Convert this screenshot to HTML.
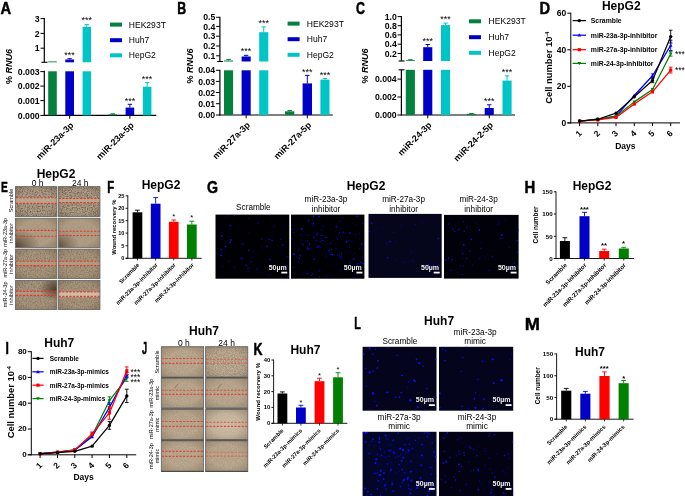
<!DOCTYPE html>
<html lang="en"><head><meta charset="utf-8"><title>Figure</title>
<style>
html,body{margin:0;padding:0;background:#fff;}
body{width:685px;height:496px;overflow:hidden;font-family:'Liberation Sans', sans-serif;}
svg{display:block;font-family:"Liberation Sans",sans-serif;}
</style></head><body>
<svg width="685" height="496" viewBox="0 0 685 496">
<defs>
<filter id="nzD" x="0" y="0" width="100%" height="100%" color-interpolation-filters="sRGB">
<feTurbulence type="fractalNoise" baseFrequency="0.8" numOctaves="2" seed="4"/>
<feColorMatrix type="matrix" values="1 0 0 0 0  1 0 0 0 0  1 0 0 0 0  0 0 0 0 1"/>
<feGaussianBlur stdDeviation="0.3"/>
<feComponentTransfer>
<feFuncR type="table" tableValues="0.410 0.430 0.460 0.505 0.565 0.625 0.665 0.690 0.705 0.715 0.725"/>
<feFuncG type="table" tableValues="0.342 0.362 0.392 0.437 0.497 0.557 0.597 0.622 0.637 0.647 0.657"/>
<feFuncB type="table" tableValues="0.260 0.280 0.310 0.355 0.415 0.475 0.515 0.540 0.555 0.565 0.575"/>
</feComponentTransfer>
</filter>
<filter id="nzM" x="0" y="0" width="100%" height="100%" color-interpolation-filters="sRGB">
<feTurbulence type="fractalNoise" baseFrequency="0.77" numOctaves="2" seed="9"/>
<feColorMatrix type="matrix" values="1 0 0 0 0  1 0 0 0 0  1 0 0 0 0  0 0 0 0 1"/>
<feGaussianBlur stdDeviation="0.3"/>
<feComponentTransfer>
<feFuncR type="table" tableValues="0.490 0.510 0.535 0.565 0.595 0.625 0.650 0.665 0.675 0.680 0.685"/>
<feFuncG type="table" tableValues="0.420 0.440 0.465 0.495 0.525 0.555 0.580 0.595 0.605 0.610 0.615"/>
<feFuncB type="table" tableValues="0.330 0.350 0.375 0.405 0.435 0.465 0.490 0.505 0.515 0.520 0.525"/>
</feComponentTransfer>
</filter>
<filter id="nzS" x="0" y="0" width="100%" height="100%" color-interpolation-filters="sRGB">
<feTurbulence type="fractalNoise" baseFrequency="1.2" numOctaves="1" seed="7"/>
<feColorMatrix type="matrix" values="0.12 0 0 0 0.615  0.11 0 0 0 0.55  0.1 0 0 0 0.46  0 0 0 0 1"/>
</filter>
<filter id="nzJ" x="0" y="0" width="100%" height="100%" color-interpolation-filters="sRGB">
<feTurbulence type="fractalNoise" baseFrequency="1.2" numOctaves="1" seed="5"/>
<feColorMatrix type="matrix" values="0.14 0 0 0 0.64  0.13 0 0 0 0.575  0.12 0 0 0 0.485  0 0 0 0 1"/>
</filter>
<filter id="nzJ2" x="0" y="0" width="100%" height="100%" color-interpolation-filters="sRGB">
<feTurbulence type="fractalNoise" baseFrequency="1.1" numOctaves="2" seed="15"/>
<feColorMatrix type="matrix" values="0.3 0 0 0 0.55  0.28 0 0 0 0.49  0.26 0 0 0 0.41  0 0 0 0 1"/>
</filter>
<radialGradient id="vigJ" cx="0.5" cy="0.5" r="0.8">
<stop offset="0.45" stop-color="#3a2a18" stop-opacity="0"/>
<stop offset="1" stop-color="#3a2a18" stop-opacity="0.3"/>
</radialGradient>
<radialGradient id="lightC" cx="0.5" cy="0.5" r="0.7">
<stop offset="0" stop-color="#e8dcc8" stop-opacity="0.45"/>
<stop offset="1" stop-color="#e8dcc8" stop-opacity="0.1"/>
</radialGradient>
<radialGradient id="blobTR" cx="0.96" cy="0.3" r="0.4">
<stop offset="0" stop-color="#3a2c1e" stop-opacity="0.8"/>
<stop offset="1" stop-color="#3a2c1e" stop-opacity="0"/>
</radialGradient>
<radialGradient id="blobBL" cx="0.0" cy="0.95" r="0.6">
<stop offset="0" stop-color="#3a2c1e" stop-opacity="0.7"/>
<stop offset="1" stop-color="#3a2c1e" stop-opacity="0"/>
</radialGradient>
<radialGradient id="blobBLs" cx="0.0" cy="0.9" r="0.5">
<stop offset="0" stop-color="#3a2c1e" stop-opacity="0.55"/>
<stop offset="1" stop-color="#3a2c1e" stop-opacity="0"/>
</radialGradient>
<filter id="soft" x="-5%" y="-5%" width="110%" height="110%"><feGaussianBlur stdDeviation="0.35"/></filter>
<radialGradient id="vig" cx="0.5" cy="0.5" r="0.75">
<stop offset="0.55" stop-color="#3a2a18" stop-opacity="0"/>
<stop offset="1" stop-color="#3a2a18" stop-opacity="0.3"/>
</radialGradient>
</defs>
<rect x="0" y="0" width="685" height="496" fill="#fff"/>
<text transform="translate(0.41,14.12) scale(0.944,1)" font-size="15.58" font-weight="bold" stroke="#000" stroke-width="0.45" vector-effect="non-scaling-stroke" stroke-linejoin="round">A</text>
<line x1="44.30" y1="18.10" x2="44.30" y2="62.30" stroke="#000" stroke-width="1.2"/>
<line x1="44.30" y1="70.80" x2="44.30" y2="115.90" stroke="#000" stroke-width="1.2"/>
<line x1="43.80" y1="115.40" x2="156.30" y2="115.40" stroke="#000" stroke-width="1.2"/>
<line x1="41.50" y1="62.30" x2="47.50" y2="62.30" stroke="#000" stroke-width="1.1"/>
<line x1="40.50" y1="18.60" x2="44.30" y2="18.60" stroke="#000" stroke-width="1"/>
<text x="39.70" y="21.70" font-size="8.7" font-weight="bold" text-anchor="end" fill="#000">3</text>
<line x1="40.50" y1="33.40" x2="44.30" y2="33.40" stroke="#000" stroke-width="1"/>
<text x="39.70" y="36.50" font-size="8.7" font-weight="bold" text-anchor="end" fill="#000">2</text>
<line x1="40.50" y1="48.20" x2="44.30" y2="48.20" stroke="#000" stroke-width="1"/>
<text x="39.70" y="51.30" font-size="8.7" font-weight="bold" text-anchor="end" fill="#000">1</text>
<line x1="40.30" y1="71.60" x2="44.30" y2="71.60" stroke="#000" stroke-width="1"/>
<text x="39.60" y="74.70" font-size="8.7" font-weight="bold" text-anchor="end" fill="#000">0.003</text>
<line x1="40.30" y1="86.10" x2="44.30" y2="86.10" stroke="#000" stroke-width="1"/>
<text x="39.60" y="89.20" font-size="8.7" font-weight="bold" text-anchor="end" fill="#000">0.002</text>
<line x1="40.30" y1="100.60" x2="44.30" y2="100.60" stroke="#000" stroke-width="1"/>
<text x="39.60" y="103.70" font-size="8.7" font-weight="bold" text-anchor="end" fill="#000">0.001</text>
<line x1="40.30" y1="115.40" x2="44.30" y2="115.40" stroke="#000" stroke-width="1"/>
<text x="39.60" y="118.50" font-size="8.7" font-weight="bold" text-anchor="end" fill="#000">0.000</text>
<rect x="48.20" y="71.30" width="8.60" height="44.10" fill="#04803f"/>
<rect x="48.20" y="61.40" width="8.60" height="0.90" fill="#04803f"/>
<rect x="65.30" y="71.30" width="8.70" height="44.10" fill="#0000c6"/>
<rect x="65.30" y="59.50" width="8.70" height="2.80" fill="#0000c6"/>
<line x1="69.65" y1="58.70" x2="69.65" y2="59.50" stroke="#0000c6" stroke-width="1"/>
<line x1="67.45" y1="58.70" x2="71.85" y2="58.70" stroke="#0000c6" stroke-width="1"/>
<rect x="82.60" y="71.30" width="8.40" height="44.10" fill="#00c5c6"/>
<rect x="82.60" y="26.90" width="8.40" height="35.40" fill="#00c5c6"/>
<line x1="86.80" y1="24.60" x2="86.80" y2="26.90" stroke="#00c5c6" stroke-width="1"/>
<line x1="84.60" y1="24.60" x2="89.00" y2="24.60" stroke="#00c5c6" stroke-width="1"/>
<rect x="108.50" y="114.30" width="8.50" height="1.10" fill="#04803f"/>
<line x1="112.75" y1="113.80" x2="112.75" y2="114.30" stroke="#04803f" stroke-width="1"/>
<line x1="110.55" y1="113.80" x2="114.95" y2="113.80" stroke="#04803f" stroke-width="1"/>
<rect x="125.60" y="107.60" width="8.60" height="7.80" fill="#0000c6"/>
<line x1="129.90" y1="104.30" x2="129.90" y2="107.60" stroke="#0000c6" stroke-width="1"/>
<line x1="127.70" y1="104.30" x2="132.10" y2="104.30" stroke="#0000c6" stroke-width="1"/>
<rect x="142.90" y="86.70" width="8.50" height="28.70" fill="#00c5c6"/>
<line x1="147.15" y1="82.60" x2="147.15" y2="86.70" stroke="#00c5c6" stroke-width="1"/>
<line x1="144.95" y1="82.60" x2="149.35" y2="82.60" stroke="#00c5c6" stroke-width="1"/>
<text x="69.60" y="57.50" font-size="9" font-weight="normal" text-anchor="middle" fill="#000">***</text>
<text x="86.80" y="23.30" font-size="9" font-weight="normal" text-anchor="middle" fill="#000">***</text>
<text x="129.90" y="103.50" font-size="9" font-weight="normal" text-anchor="middle" fill="#000">***</text>
<text x="147.10" y="82.20" font-size="9" font-weight="normal" text-anchor="middle" fill="#000">***</text>
<line x1="69.65" y1="115.40" x2="69.65" y2="118.70" stroke="#000" stroke-width="1"/>
<text x="0" y="0" transform="translate(74.15,125.90) rotate(-45)" font-size="9" font-weight="bold" text-anchor="end" fill="#000">miR-23a-3p</text>
<line x1="129.90" y1="115.40" x2="129.90" y2="118.70" stroke="#000" stroke-width="1"/>
<text x="0" y="0" transform="translate(134.40,125.90) rotate(-45)" font-size="9" font-weight="bold" text-anchor="end" fill="#000">miR-23a-5p</text>
<rect x="110.00" y="22.60" width="12.00" height="4.00" fill="#04803f"/>
<text x="128.80" y="27.70" font-size="8.55" font-weight="normal" text-anchor="start" fill="#000">HEK293T</text>
<rect x="110.00" y="38.20" width="12.00" height="4.00" fill="#0000c6"/>
<text x="128.80" y="43.30" font-size="8.55" font-weight="normal" text-anchor="start" fill="#000">Huh7</text>
<rect x="110.00" y="53.30" width="12.00" height="4.00" fill="#00c5c6"/>
<text x="128.80" y="58.40" font-size="8.55" font-weight="normal" text-anchor="start" fill="#000">HepG2</text>
<text x="0" y="0" transform="translate(12.00,66.50) rotate(-90)" font-size="9" font-weight="bold" text-anchor="middle" fill="#000">% <tspan font-style="italic">RNU6</tspan></text>
<text transform="translate(177.27,14.12) scale(0.794,1)" font-size="15.58" font-weight="bold" stroke="#000" stroke-width="0.45" vector-effect="non-scaling-stroke" stroke-linejoin="round">B</text>
<line x1="219.90" y1="16.80" x2="219.90" y2="61.50" stroke="#000" stroke-width="1.2"/>
<line x1="219.90" y1="69.80" x2="219.90" y2="115.50" stroke="#000" stroke-width="1.2"/>
<line x1="219.40" y1="115.00" x2="332.80" y2="115.00" stroke="#000" stroke-width="1.2"/>
<line x1="217.10" y1="61.50" x2="223.10" y2="61.50" stroke="#000" stroke-width="1.1"/>
<line x1="216.10" y1="17.30" x2="219.90" y2="17.30" stroke="#000" stroke-width="1"/>
<text x="215.30" y="20.40" font-size="8.7" font-weight="bold" text-anchor="end" fill="#000">0.5</text>
<line x1="216.10" y1="26.40" x2="219.90" y2="26.40" stroke="#000" stroke-width="1"/>
<text x="215.30" y="29.50" font-size="8.7" font-weight="bold" text-anchor="end" fill="#000">0.4</text>
<line x1="216.10" y1="36.20" x2="219.90" y2="36.20" stroke="#000" stroke-width="1"/>
<text x="215.30" y="39.30" font-size="8.7" font-weight="bold" text-anchor="end" fill="#000">0.3</text>
<line x1="216.10" y1="46.00" x2="219.90" y2="46.00" stroke="#000" stroke-width="1"/>
<text x="215.30" y="49.10" font-size="8.7" font-weight="bold" text-anchor="end" fill="#000">0.2</text>
<line x1="216.10" y1="55.80" x2="219.90" y2="55.80" stroke="#000" stroke-width="1"/>
<text x="215.30" y="58.90" font-size="8.7" font-weight="bold" text-anchor="end" fill="#000">0.1</text>
<line x1="215.90" y1="70.30" x2="219.90" y2="70.30" stroke="#000" stroke-width="1"/>
<text x="215.20" y="73.40" font-size="8.7" font-weight="bold" text-anchor="end" fill="#000">0.04</text>
<line x1="215.90" y1="81.40" x2="219.90" y2="81.40" stroke="#000" stroke-width="1"/>
<text x="215.20" y="84.50" font-size="8.7" font-weight="bold" text-anchor="end" fill="#000">0.03</text>
<line x1="215.90" y1="92.50" x2="219.90" y2="92.50" stroke="#000" stroke-width="1"/>
<text x="215.20" y="95.60" font-size="8.7" font-weight="bold" text-anchor="end" fill="#000">0.02</text>
<line x1="215.90" y1="103.70" x2="219.90" y2="103.70" stroke="#000" stroke-width="1"/>
<text x="215.20" y="106.80" font-size="8.7" font-weight="bold" text-anchor="end" fill="#000">0.01</text>
<line x1="215.90" y1="115.00" x2="219.90" y2="115.00" stroke="#000" stroke-width="1"/>
<text x="215.20" y="118.10" font-size="8.7" font-weight="bold" text-anchor="end" fill="#000">0.00</text>
<rect x="224.00" y="70.30" width="9.10" height="44.70" fill="#04803f"/>
<rect x="224.00" y="60.50" width="9.10" height="1.00" fill="#04803f"/>
<line x1="228.55" y1="59.40" x2="228.55" y2="60.50" stroke="#04803f" stroke-width="1"/>
<line x1="226.35" y1="59.40" x2="230.75" y2="59.40" stroke="#04803f" stroke-width="1"/>
<rect x="241.60" y="70.30" width="9.10" height="44.70" fill="#0000c6"/>
<rect x="241.60" y="56.50" width="9.10" height="5.00" fill="#0000c6"/>
<line x1="246.15" y1="55.30" x2="246.15" y2="56.50" stroke="#0000c6" stroke-width="1"/>
<line x1="243.95" y1="55.30" x2="248.35" y2="55.30" stroke="#0000c6" stroke-width="1"/>
<rect x="259.20" y="70.30" width="9.10" height="44.70" fill="#00c5c6"/>
<rect x="259.20" y="32.20" width="9.10" height="29.30" fill="#00c5c6"/>
<line x1="263.75" y1="26.90" x2="263.75" y2="32.20" stroke="#00c5c6" stroke-width="1"/>
<line x1="261.55" y1="26.90" x2="265.95" y2="26.90" stroke="#00c5c6" stroke-width="1"/>
<rect x="285.00" y="111.30" width="9.30" height="3.70" fill="#04803f"/>
<line x1="289.65" y1="110.50" x2="289.65" y2="111.30" stroke="#04803f" stroke-width="1"/>
<line x1="287.45" y1="110.50" x2="291.85" y2="110.50" stroke="#04803f" stroke-width="1"/>
<rect x="302.60" y="83.40" width="9.40" height="31.60" fill="#0000c6"/>
<line x1="307.30" y1="75.40" x2="307.30" y2="83.40" stroke="#0000c6" stroke-width="1"/>
<line x1="305.10" y1="75.40" x2="309.50" y2="75.40" stroke="#0000c6" stroke-width="1"/>
<rect x="320.40" y="79.60" width="9.10" height="35.40" fill="#00c5c6"/>
<line x1="324.95" y1="78.60" x2="324.95" y2="79.60" stroke="#00c5c6" stroke-width="1"/>
<line x1="322.75" y1="78.60" x2="327.15" y2="78.60" stroke="#00c5c6" stroke-width="1"/>
<text x="246.10" y="53.50" font-size="9" font-weight="normal" text-anchor="middle" fill="#000">***</text>
<text x="263.70" y="25.50" font-size="9" font-weight="normal" text-anchor="middle" fill="#000">***</text>
<text x="307.30" y="74.50" font-size="9" font-weight="normal" text-anchor="middle" fill="#000">***</text>
<text x="325.00" y="78.00" font-size="9" font-weight="normal" text-anchor="middle" fill="#000">***</text>
<line x1="246.15" y1="115.00" x2="246.15" y2="118.30" stroke="#000" stroke-width="1"/>
<text x="0" y="0" transform="translate(250.65,125.50) rotate(-45)" font-size="9" font-weight="bold" text-anchor="end" fill="#000">miR-27a-3p</text>
<line x1="307.30" y1="115.00" x2="307.30" y2="118.30" stroke="#000" stroke-width="1"/>
<text x="0" y="0" transform="translate(311.80,125.50) rotate(-45)" font-size="9" font-weight="bold" text-anchor="end" fill="#000">miR-27a-5p</text>
<rect x="287.60" y="21.60" width="12.00" height="4.00" fill="#04803f"/>
<text x="306.80" y="26.70" font-size="8.55" font-weight="normal" text-anchor="start" fill="#000">HEK293T</text>
<rect x="287.60" y="37.20" width="12.00" height="4.00" fill="#0000c6"/>
<text x="306.80" y="42.30" font-size="8.55" font-weight="normal" text-anchor="start" fill="#000">Huh7</text>
<rect x="287.60" y="52.80" width="12.00" height="4.00" fill="#00c5c6"/>
<text x="306.80" y="57.90" font-size="8.55" font-weight="normal" text-anchor="start" fill="#000">HepG2</text>
<text x="0" y="0" transform="translate(192.50,66.00) rotate(-90)" font-size="9" font-weight="bold" text-anchor="middle" fill="#000">% <tspan font-style="italic">RNU6</tspan></text>
<text transform="translate(356.08,14.27) scale(0.778,1)" font-size="15.99" font-weight="bold" stroke="#000" stroke-width="0.45" vector-effect="non-scaling-stroke" stroke-linejoin="round">C</text>
<line x1="401.40" y1="16.10" x2="401.40" y2="61.00" stroke="#000" stroke-width="1.2"/>
<line x1="401.40" y1="69.80" x2="401.40" y2="115.50" stroke="#000" stroke-width="1.2"/>
<line x1="400.90" y1="115.00" x2="515.00" y2="115.00" stroke="#000" stroke-width="1.2"/>
<line x1="398.60" y1="61.00" x2="404.60" y2="61.00" stroke="#000" stroke-width="1.1"/>
<line x1="398.60" y1="69.80" x2="404.60" y2="69.80" stroke="#000" stroke-width="1.1"/>
<line x1="397.60" y1="16.60" x2="401.40" y2="16.60" stroke="#000" stroke-width="1"/>
<text x="396.80" y="19.70" font-size="8.7" font-weight="bold" text-anchor="end" fill="#000">1.0</text>
<line x1="397.60" y1="25.70" x2="401.40" y2="25.70" stroke="#000" stroke-width="1"/>
<text x="396.80" y="28.80" font-size="8.7" font-weight="bold" text-anchor="end" fill="#000">0.8</text>
<line x1="397.60" y1="34.90" x2="401.40" y2="34.90" stroke="#000" stroke-width="1"/>
<text x="396.80" y="38.00" font-size="8.7" font-weight="bold" text-anchor="end" fill="#000">0.6</text>
<line x1="397.60" y1="44.20" x2="401.40" y2="44.20" stroke="#000" stroke-width="1"/>
<text x="396.80" y="47.30" font-size="8.7" font-weight="bold" text-anchor="end" fill="#000">0.4</text>
<line x1="397.60" y1="53.50" x2="401.40" y2="53.50" stroke="#000" stroke-width="1"/>
<text x="396.80" y="56.60" font-size="8.7" font-weight="bold" text-anchor="end" fill="#000">0.2</text>
<line x1="397.40" y1="79.10" x2="401.40" y2="79.10" stroke="#000" stroke-width="1"/>
<text x="396.70" y="82.20" font-size="8.7" font-weight="bold" text-anchor="end" fill="#000">0.004</text>
<line x1="397.40" y1="97.00" x2="401.40" y2="97.00" stroke="#000" stroke-width="1"/>
<text x="396.70" y="100.10" font-size="8.7" font-weight="bold" text-anchor="end" fill="#000">0.002</text>
<line x1="397.40" y1="115.00" x2="401.40" y2="115.00" stroke="#000" stroke-width="1"/>
<text x="396.70" y="118.10" font-size="8.7" font-weight="bold" text-anchor="end" fill="#000">0.000</text>
<rect x="405.80" y="69.80" width="9.10" height="45.20" fill="#04803f"/>
<rect x="405.80" y="60.20" width="9.10" height="0.80" fill="#04803f"/>
<line x1="410.35" y1="59.70" x2="410.35" y2="60.20" stroke="#04803f" stroke-width="1"/>
<line x1="408.15" y1="59.70" x2="412.55" y2="59.70" stroke="#04803f" stroke-width="1"/>
<rect x="423.20" y="69.80" width="9.10" height="45.20" fill="#0000c6"/>
<rect x="423.20" y="47.20" width="9.10" height="13.80" fill="#0000c6"/>
<line x1="427.75" y1="44.50" x2="427.75" y2="47.20" stroke="#0000c6" stroke-width="1"/>
<line x1="425.55" y1="44.50" x2="429.95" y2="44.50" stroke="#0000c6" stroke-width="1"/>
<rect x="441.00" y="69.80" width="9.10" height="45.20" fill="#00c5c6"/>
<rect x="441.00" y="25.10" width="9.10" height="35.90" fill="#00c5c6"/>
<line x1="445.55" y1="23.10" x2="445.55" y2="25.10" stroke="#00c5c6" stroke-width="1"/>
<line x1="443.35" y1="23.10" x2="447.75" y2="23.10" stroke="#00c5c6" stroke-width="1"/>
<rect x="466.80" y="113.80" width="9.30" height="1.20" fill="#04803f"/>
<line x1="471.45" y1="113.50" x2="471.45" y2="113.80" stroke="#04803f" stroke-width="1"/>
<line x1="469.25" y1="113.50" x2="473.65" y2="113.50" stroke="#04803f" stroke-width="1"/>
<rect x="484.70" y="108.00" width="9.10" height="7.00" fill="#0000c6"/>
<line x1="489.25" y1="104.80" x2="489.25" y2="108.00" stroke="#0000c6" stroke-width="1"/>
<line x1="487.05" y1="104.80" x2="491.45" y2="104.80" stroke="#0000c6" stroke-width="1"/>
<rect x="502.50" y="80.60" width="9.10" height="34.40" fill="#00c5c6"/>
<line x1="507.05" y1="75.90" x2="507.05" y2="80.60" stroke="#00c5c6" stroke-width="1"/>
<line x1="504.85" y1="75.90" x2="509.25" y2="75.90" stroke="#00c5c6" stroke-width="1"/>
<text x="427.70" y="43.70" font-size="9" font-weight="normal" text-anchor="middle" fill="#000">***</text>
<text x="445.50" y="22.30" font-size="9" font-weight="normal" text-anchor="middle" fill="#000">***</text>
<text x="489.20" y="104.00" font-size="9" font-weight="normal" text-anchor="middle" fill="#000">***</text>
<text x="507.00" y="75.10" font-size="9" font-weight="normal" text-anchor="middle" fill="#000">***</text>
<line x1="427.75" y1="115.00" x2="427.75" y2="118.30" stroke="#000" stroke-width="1"/>
<text x="0" y="0" transform="translate(432.25,125.50) rotate(-45)" font-size="9" font-weight="bold" text-anchor="end" fill="#000">miR-24-3p</text>
<line x1="489.25" y1="115.00" x2="489.25" y2="118.30" stroke="#000" stroke-width="1"/>
<text x="0" y="0" transform="translate(493.75,125.50) rotate(-45)" font-size="9" font-weight="bold" text-anchor="end" fill="#000">miR-24-2-5p</text>
<rect x="469.00" y="19.30" width="12.00" height="4.00" fill="#04803f"/>
<text x="488.60" y="24.40" font-size="8.55" font-weight="normal" text-anchor="start" fill="#000">HEK293T</text>
<rect x="469.00" y="35.20" width="12.00" height="4.00" fill="#0000c6"/>
<text x="488.60" y="40.30" font-size="8.55" font-weight="normal" text-anchor="start" fill="#000">Huh7</text>
<rect x="469.00" y="50.80" width="12.00" height="4.00" fill="#00c5c6"/>
<text x="488.60" y="55.90" font-size="8.55" font-weight="normal" text-anchor="start" fill="#000">HepG2</text>
<text x="0" y="0" transform="translate(368.20,66.00) rotate(-90)" font-size="9" font-weight="bold" text-anchor="middle" fill="#000">% <tspan font-style="italic">RNU6</tspan></text>
<text transform="translate(539.42,13.53) scale(0.919,1)" font-size="16.01" font-weight="bold" stroke="#000" stroke-width="0.45" vector-effect="non-scaling-stroke" stroke-linejoin="round">D</text>
<text x="621.30" y="9.80" font-size="12" font-weight="bold" text-anchor="middle" fill="#000">HepG2</text>
<line x1="570.80" y1="12.70" x2="570.80" y2="123.40" stroke="#000" stroke-width="1"/>
<line x1="567.30" y1="122.90" x2="680.00" y2="122.90" stroke="#000" stroke-width="1"/>
<line x1="567.30" y1="13.20" x2="570.80" y2="13.20" stroke="#000" stroke-width="1"/>
<text x="566.30" y="16.26" font-size="8.5" font-weight="bold" text-anchor="end" fill="#000">60</text>
<line x1="567.30" y1="49.80" x2="570.80" y2="49.80" stroke="#000" stroke-width="1"/>
<text x="566.30" y="52.86" font-size="8.5" font-weight="bold" text-anchor="end" fill="#000">40</text>
<line x1="567.30" y1="86.30" x2="570.80" y2="86.30" stroke="#000" stroke-width="1"/>
<text x="566.30" y="89.36" font-size="8.5" font-weight="bold" text-anchor="end" fill="#000">20</text>
<line x1="567.30" y1="122.90" x2="570.80" y2="122.90" stroke="#000" stroke-width="1"/>
<text x="566.30" y="125.96" font-size="8.5" font-weight="bold" text-anchor="end" fill="#000">0</text>
<line x1="579.60" y1="122.90" x2="579.60" y2="126.10" stroke="#000" stroke-width="1"/>
<text x="0" y="0" transform="translate(580.60,135.60) rotate(-45)" font-size="8.5" font-weight="bold" text-anchor="middle" fill="#000">1</text>
<line x1="597.80" y1="122.90" x2="597.80" y2="126.10" stroke="#000" stroke-width="1"/>
<text x="0" y="0" transform="translate(598.80,135.60) rotate(-45)" font-size="8.5" font-weight="bold" text-anchor="middle" fill="#000">2</text>
<line x1="616.00" y1="122.90" x2="616.00" y2="126.10" stroke="#000" stroke-width="1"/>
<text x="0" y="0" transform="translate(617.00,135.60) rotate(-45)" font-size="8.5" font-weight="bold" text-anchor="middle" fill="#000">3</text>
<line x1="634.30" y1="122.90" x2="634.30" y2="126.10" stroke="#000" stroke-width="1"/>
<text x="0" y="0" transform="translate(635.30,135.60) rotate(-45)" font-size="8.5" font-weight="bold" text-anchor="middle" fill="#000">4</text>
<line x1="652.50" y1="122.90" x2="652.50" y2="126.10" stroke="#000" stroke-width="1"/>
<text x="0" y="0" transform="translate(653.50,135.60) rotate(-45)" font-size="8.5" font-weight="bold" text-anchor="middle" fill="#000">5</text>
<line x1="670.70" y1="122.90" x2="670.70" y2="126.10" stroke="#000" stroke-width="1"/>
<text x="0" y="0" transform="translate(671.70,135.60) rotate(-45)" font-size="8.5" font-weight="bold" text-anchor="middle" fill="#000">6</text>
<polyline points="579.60,121.25 597.80,119.43 616.00,116.14 634.30,95.48 652.50,75.73 670.70,45.38" fill="none" stroke="#0000ff" stroke-width="1.25" stroke-linejoin="round"/>
<line x1="670.70" y1="40.26" x2="670.70" y2="50.50" stroke="#0000ff" stroke-width="0.9"/>
<line x1="668.90" y1="40.26" x2="672.50" y2="40.26" stroke="#0000ff" stroke-width="0.9"/>
<line x1="668.90" y1="50.50" x2="672.50" y2="50.50" stroke="#0000ff" stroke-width="0.9"/>
<line x1="652.50" y1="73.90" x2="652.50" y2="77.56" stroke="#0000ff" stroke-width="0.9"/>
<line x1="650.70" y1="73.90" x2="654.30" y2="73.90" stroke="#0000ff" stroke-width="0.9"/>
<line x1="650.70" y1="77.56" x2="654.30" y2="77.56" stroke="#0000ff" stroke-width="0.9"/>
<path d="M577.80,122.65 L581.40,122.65 L579.60,119.35Z" fill="#0000ff"/>
<path d="M596.00,120.83 L599.60,120.83 L597.80,117.53Z" fill="#0000ff"/>
<path d="M614.20,117.54 L617.80,117.54 L616.00,114.24Z" fill="#0000ff"/>
<path d="M632.50,96.88 L636.10,96.88 L634.30,93.58Z" fill="#0000ff"/>
<path d="M650.70,77.13 L654.30,77.13 L652.50,73.83Z" fill="#0000ff"/>
<path d="M668.90,46.78 L672.50,46.78 L670.70,43.48Z" fill="#0000ff"/>
<polyline points="579.60,121.25 597.80,119.24 616.00,116.32 634.30,101.87 652.50,89.44 670.70,53.79" fill="none" stroke="#008000" stroke-width="1.25" stroke-linejoin="round"/>
<line x1="670.70" y1="51.41" x2="670.70" y2="56.17" stroke="#008000" stroke-width="0.9"/>
<line x1="668.90" y1="51.41" x2="672.50" y2="51.41" stroke="#008000" stroke-width="0.9"/>
<line x1="668.90" y1="56.17" x2="672.50" y2="56.17" stroke="#008000" stroke-width="0.9"/>
<path d="M577.80,119.85 L581.40,119.85 L579.60,123.15Z" fill="#008000"/>
<path d="M596.00,117.84 L599.60,117.84 L597.80,121.14Z" fill="#008000"/>
<path d="M614.20,114.92 L617.80,114.92 L616.00,118.22Z" fill="#008000"/>
<path d="M632.50,100.47 L636.10,100.47 L634.30,103.77Z" fill="#008000"/>
<path d="M650.70,88.04 L654.30,88.04 L652.50,91.34Z" fill="#008000"/>
<path d="M668.90,52.39 L672.50,52.39 L670.70,55.69Z" fill="#008000"/>
<polyline points="579.60,121.25 597.80,119.97 616.00,117.42 634.30,104.07 652.50,91.82 670.70,70.06" fill="none" stroke="#ff0000" stroke-width="1.25" stroke-linejoin="round"/>
<line x1="670.70" y1="67.14" x2="670.70" y2="72.99" stroke="#ff0000" stroke-width="0.9"/>
<line x1="668.90" y1="67.14" x2="672.50" y2="67.14" stroke="#ff0000" stroke-width="0.9"/>
<line x1="668.90" y1="72.99" x2="672.50" y2="72.99" stroke="#ff0000" stroke-width="0.9"/>
<rect x="578.00" y="119.65" width="3.20" height="3.20" fill="#ff0000"/>
<rect x="596.20" y="118.37" width="3.20" height="3.20" fill="#ff0000"/>
<rect x="614.40" y="115.82" width="3.20" height="3.20" fill="#ff0000"/>
<rect x="632.70" y="102.47" width="3.20" height="3.20" fill="#ff0000"/>
<rect x="650.90" y="90.22" width="3.20" height="3.20" fill="#ff0000"/>
<rect x="669.10" y="68.46" width="3.20" height="3.20" fill="#ff0000"/>
<polyline points="579.60,121.07 597.80,119.24 616.00,113.21 634.30,96.75 652.50,80.48 670.70,36.60" fill="none" stroke="#000" stroke-width="1.25" stroke-linejoin="round"/>
<line x1="670.70" y1="30.20" x2="670.70" y2="43.00" stroke="#000" stroke-width="0.9"/>
<line x1="668.90" y1="30.20" x2="672.50" y2="30.20" stroke="#000" stroke-width="0.9"/>
<line x1="668.90" y1="43.00" x2="672.50" y2="43.00" stroke="#000" stroke-width="0.9"/>
<line x1="652.50" y1="78.29" x2="652.50" y2="82.68" stroke="#000" stroke-width="0.9"/>
<line x1="650.70" y1="78.29" x2="654.30" y2="78.29" stroke="#000" stroke-width="0.9"/>
<line x1="650.70" y1="82.68" x2="654.30" y2="82.68" stroke="#000" stroke-width="0.9"/>
<circle cx="579.60" cy="121.07" r="1.7" fill="#000"/>
<circle cx="597.80" cy="119.24" r="1.7" fill="#000"/>
<circle cx="616.00" cy="113.21" r="1.7" fill="#000"/>
<circle cx="634.30" cy="96.75" r="1.7" fill="#000"/>
<circle cx="652.50" cy="80.48" r="1.7" fill="#000"/>
<circle cx="670.70" cy="36.60" r="1.7" fill="#000"/>
<line x1="572.60" y1="20.60" x2="586.00" y2="20.60" stroke="#000" stroke-width="1.25"/>
<circle cx="579.30" cy="20.60" r="1.7" fill="#000"/>
<text x="590.80" y="23.00" font-size="6.85" font-weight="bold" text-anchor="start" fill="#000">Scramble</text>
<line x1="572.60" y1="35.20" x2="586.00" y2="35.20" stroke="#0000ff" stroke-width="1.25"/>
<path d="M577.50,36.60 L581.10,36.60 L579.30,33.30Z" fill="#0000ff"/>
<text x="590.80" y="37.60" font-size="6.85" font-weight="bold" text-anchor="start" fill="#000">miR-23a-3p-inhibitor</text>
<line x1="572.60" y1="49.70" x2="586.00" y2="49.70" stroke="#ff0000" stroke-width="1.25"/>
<rect x="577.70" y="48.10" width="3.20" height="3.20" fill="#ff0000"/>
<text x="590.80" y="52.10" font-size="6.85" font-weight="bold" text-anchor="start" fill="#000">miR-27a-3p-inhibitor</text>
<line x1="572.60" y1="63.40" x2="586.00" y2="63.40" stroke="#008000" stroke-width="1.25"/>
<path d="M577.50,62.00 L581.10,62.00 L579.30,65.30Z" fill="#008000"/>
<text x="590.80" y="65.80" font-size="6.85" font-weight="bold" text-anchor="start" fill="#000">miR-24-3p-inhibitor</text>
<text x="675.00" y="56.60" font-size="8.5" font-weight="normal" text-anchor="start" fill="#000">***</text>
<text x="675.00" y="73.10" font-size="8.5" font-weight="normal" text-anchor="start" fill="#000">***</text>
<text x="0" y="0" transform="translate(551.90,67.80) rotate(-90)" font-size="9.4" font-weight="bold" text-anchor="middle" fill="#000">Cell number 10<tspan font-size="5.5" dy="-3.2">-4</tspan></text>
<text x="625.30" y="148.90" font-size="8.5" font-weight="bold" text-anchor="middle" fill="#000">Days</text>
<text transform="translate(5.49,353.92) scale(0.775,1)" font-size="15.58" font-weight="bold" stroke="#000" stroke-width="0.45" vector-effect="non-scaling-stroke" stroke-linejoin="round">I</text>
<text x="59.30" y="346.60" font-size="12" font-weight="bold" text-anchor="middle" fill="#000">Huh7</text>
<line x1="31.30" y1="351.20" x2="31.30" y2="455.30" stroke="#000" stroke-width="1"/>
<line x1="27.80" y1="454.80" x2="136.20" y2="454.80" stroke="#000" stroke-width="1"/>
<line x1="27.80" y1="351.70" x2="31.30" y2="351.70" stroke="#000" stroke-width="1"/>
<text x="26.80" y="354.08" font-size="8.0" font-weight="bold" text-anchor="end" fill="#000">80</text>
<line x1="27.80" y1="377.40" x2="31.30" y2="377.40" stroke="#000" stroke-width="1"/>
<text x="26.80" y="379.78" font-size="8.0" font-weight="bold" text-anchor="end" fill="#000">60</text>
<line x1="27.80" y1="403.20" x2="31.30" y2="403.20" stroke="#000" stroke-width="1"/>
<text x="26.80" y="405.58" font-size="8.0" font-weight="bold" text-anchor="end" fill="#000">40</text>
<line x1="27.80" y1="429.00" x2="31.30" y2="429.00" stroke="#000" stroke-width="1"/>
<text x="26.80" y="431.38" font-size="8.0" font-weight="bold" text-anchor="end" fill="#000">20</text>
<line x1="27.80" y1="454.80" x2="31.30" y2="454.80" stroke="#000" stroke-width="1"/>
<text x="26.80" y="457.18" font-size="8.0" font-weight="bold" text-anchor="end" fill="#000">0</text>
<line x1="40.10" y1="454.80" x2="40.10" y2="458.00" stroke="#000" stroke-width="1"/>
<text x="0" y="0" transform="translate(41.10,467.50) rotate(-45)" font-size="8.5" font-weight="bold" text-anchor="middle" fill="#000">1</text>
<line x1="57.50" y1="454.80" x2="57.50" y2="458.00" stroke="#000" stroke-width="1"/>
<text x="0" y="0" transform="translate(58.50,467.50) rotate(-45)" font-size="8.5" font-weight="bold" text-anchor="middle" fill="#000">2</text>
<line x1="74.80" y1="454.80" x2="74.80" y2="458.00" stroke="#000" stroke-width="1"/>
<text x="0" y="0" transform="translate(75.80,467.50) rotate(-45)" font-size="8.5" font-weight="bold" text-anchor="middle" fill="#000">3</text>
<line x1="92.10" y1="454.80" x2="92.10" y2="458.00" stroke="#000" stroke-width="1"/>
<text x="0" y="0" transform="translate(93.10,467.50) rotate(-45)" font-size="8.5" font-weight="bold" text-anchor="middle" fill="#000">4</text>
<line x1="109.40" y1="454.80" x2="109.40" y2="458.00" stroke="#000" stroke-width="1"/>
<text x="0" y="0" transform="translate(110.40,467.50) rotate(-45)" font-size="8.5" font-weight="bold" text-anchor="middle" fill="#000">5</text>
<line x1="126.80" y1="454.80" x2="126.80" y2="458.00" stroke="#000" stroke-width="1"/>
<text x="0" y="0" transform="translate(127.80,467.50) rotate(-45)" font-size="8.5" font-weight="bold" text-anchor="middle" fill="#000">6</text>
<polyline points="40.10,453.64 57.50,452.09 74.80,449.77 92.10,435.47 109.40,400.67 126.80,378.12" fill="none" stroke="#008000" stroke-width="1.25" stroke-linejoin="round"/>
<line x1="126.80" y1="374.90" x2="126.80" y2="381.34" stroke="#008000" stroke-width="0.9"/>
<line x1="125.00" y1="374.90" x2="128.60" y2="374.90" stroke="#008000" stroke-width="0.9"/>
<line x1="125.00" y1="381.34" x2="128.60" y2="381.34" stroke="#008000" stroke-width="0.9"/>
<line x1="109.40" y1="396.81" x2="109.40" y2="404.54" stroke="#008000" stroke-width="0.9"/>
<line x1="107.60" y1="396.81" x2="111.20" y2="396.81" stroke="#008000" stroke-width="0.9"/>
<line x1="107.60" y1="404.54" x2="111.20" y2="404.54" stroke="#008000" stroke-width="0.9"/>
<path d="M38.30,452.24 L41.90,452.24 L40.10,455.54Z" fill="#008000"/>
<path d="M55.70,450.69 L59.30,450.69 L57.50,453.99Z" fill="#008000"/>
<path d="M73.00,448.37 L76.60,448.37 L74.80,451.67Z" fill="#008000"/>
<path d="M90.30,434.07 L93.90,434.07 L92.10,437.37Z" fill="#008000"/>
<path d="M107.60,399.27 L111.20,399.27 L109.40,402.57Z" fill="#008000"/>
<path d="M125.00,376.72 L128.60,376.72 L126.80,380.02Z" fill="#008000"/>
<polyline points="40.10,453.64 57.50,452.22 74.80,450.29 92.10,436.76 109.40,407.37 126.80,375.16" fill="none" stroke="#0000ff" stroke-width="1.25" stroke-linejoin="round"/>
<line x1="126.80" y1="372.58" x2="126.80" y2="377.73" stroke="#0000ff" stroke-width="0.9"/>
<line x1="125.00" y1="372.58" x2="128.60" y2="372.58" stroke="#0000ff" stroke-width="0.9"/>
<line x1="125.00" y1="377.73" x2="128.60" y2="377.73" stroke="#0000ff" stroke-width="0.9"/>
<line x1="109.40" y1="402.86" x2="109.40" y2="411.88" stroke="#0000ff" stroke-width="0.9"/>
<line x1="107.60" y1="402.86" x2="111.20" y2="402.86" stroke="#0000ff" stroke-width="0.9"/>
<line x1="107.60" y1="411.88" x2="111.20" y2="411.88" stroke="#0000ff" stroke-width="0.9"/>
<path d="M38.30,455.04 L41.90,455.04 L40.10,451.74Z" fill="#0000ff"/>
<path d="M55.70,453.62 L59.30,453.62 L57.50,450.32Z" fill="#0000ff"/>
<path d="M73.00,451.69 L76.60,451.69 L74.80,448.39Z" fill="#0000ff"/>
<path d="M90.30,438.16 L93.90,438.16 L92.10,434.86Z" fill="#0000ff"/>
<path d="M107.60,408.77 L111.20,408.77 L109.40,405.47Z" fill="#0000ff"/>
<path d="M125.00,376.56 L128.60,376.56 L126.80,373.26Z" fill="#0000ff"/>
<polyline points="40.10,453.64 57.50,452.22 74.80,449.90 92.10,433.92 109.40,412.92 126.80,370.77" fill="none" stroke="#ff0000" stroke-width="1.25" stroke-linejoin="round"/>
<line x1="126.80" y1="366.91" x2="126.80" y2="374.64" stroke="#ff0000" stroke-width="0.9"/>
<line x1="125.00" y1="366.91" x2="128.60" y2="366.91" stroke="#ff0000" stroke-width="0.9"/>
<line x1="125.00" y1="374.64" x2="128.60" y2="374.64" stroke="#ff0000" stroke-width="0.9"/>
<line x1="109.40" y1="406.47" x2="109.40" y2="419.36" stroke="#ff0000" stroke-width="0.9"/>
<line x1="107.60" y1="406.47" x2="111.20" y2="406.47" stroke="#ff0000" stroke-width="0.9"/>
<line x1="107.60" y1="419.36" x2="111.20" y2="419.36" stroke="#ff0000" stroke-width="0.9"/>
<line x1="92.10" y1="431.99" x2="92.10" y2="435.86" stroke="#ff0000" stroke-width="0.9"/>
<line x1="90.30" y1="431.99" x2="93.90" y2="431.99" stroke="#ff0000" stroke-width="0.9"/>
<line x1="90.30" y1="435.86" x2="93.90" y2="435.86" stroke="#ff0000" stroke-width="0.9"/>
<rect x="38.50" y="452.04" width="3.20" height="3.20" fill="#ff0000"/>
<rect x="55.90" y="450.62" width="3.20" height="3.20" fill="#ff0000"/>
<rect x="73.20" y="448.30" width="3.20" height="3.20" fill="#ff0000"/>
<rect x="90.50" y="432.32" width="3.20" height="3.20" fill="#ff0000"/>
<rect x="107.80" y="411.32" width="3.20" height="3.20" fill="#ff0000"/>
<rect x="125.20" y="369.17" width="3.20" height="3.20" fill="#ff0000"/>
<polyline points="40.10,453.77 57.50,452.61 74.80,451.32 92.10,446.17 109.40,425.42 126.80,395.90" fill="none" stroke="#000" stroke-width="1.25" stroke-linejoin="round"/>
<line x1="126.80" y1="389.20" x2="126.80" y2="402.61" stroke="#000" stroke-width="0.9"/>
<line x1="125.00" y1="389.20" x2="128.60" y2="389.20" stroke="#000" stroke-width="0.9"/>
<line x1="125.00" y1="402.61" x2="128.60" y2="402.61" stroke="#000" stroke-width="0.9"/>
<line x1="109.40" y1="421.55" x2="109.40" y2="429.28" stroke="#000" stroke-width="0.9"/>
<line x1="107.60" y1="421.55" x2="111.20" y2="421.55" stroke="#000" stroke-width="0.9"/>
<line x1="107.60" y1="429.28" x2="111.20" y2="429.28" stroke="#000" stroke-width="0.9"/>
<circle cx="40.10" cy="453.77" r="1.7" fill="#000"/>
<circle cx="57.50" cy="452.61" r="1.7" fill="#000"/>
<circle cx="74.80" cy="451.32" r="1.7" fill="#000"/>
<circle cx="92.10" cy="446.17" r="1.7" fill="#000"/>
<circle cx="109.40" cy="425.42" r="1.7" fill="#000"/>
<circle cx="126.80" cy="395.90" r="1.7" fill="#000"/>
<line x1="32.40" y1="358.40" x2="43.60" y2="358.40" stroke="#000" stroke-width="1.25"/>
<circle cx="38.00" cy="358.40" r="1.7" fill="#000"/>
<text x="49.80" y="360.80" font-size="6.45" font-weight="bold" text-anchor="start" fill="#000">Scramble</text>
<line x1="32.40" y1="371.80" x2="43.60" y2="371.80" stroke="#0000ff" stroke-width="1.25"/>
<path d="M36.20,373.20 L39.80,373.20 L38.00,369.90Z" fill="#0000ff"/>
<text x="49.80" y="374.20" font-size="6.45" font-weight="bold" text-anchor="start" fill="#000">miR-23a-3p-mimics</text>
<line x1="32.40" y1="385.20" x2="43.60" y2="385.20" stroke="#ff0000" stroke-width="1.25"/>
<rect x="36.40" y="383.60" width="3.20" height="3.20" fill="#ff0000"/>
<text x="49.80" y="387.60" font-size="6.45" font-weight="bold" text-anchor="start" fill="#000">miR-27a-3p-mimics</text>
<line x1="32.40" y1="398.60" x2="43.60" y2="398.60" stroke="#008000" stroke-width="1.25"/>
<path d="M36.20,397.20 L39.80,397.20 L38.00,400.50Z" fill="#008000"/>
<text x="49.80" y="401.00" font-size="6.45" font-weight="bold" text-anchor="start" fill="#000">miR-24-3p-mimics</text>
<text x="130.40" y="374.60" font-size="8.5" font-weight="normal" text-anchor="start" fill="#000">***</text>
<text x="130.40" y="379.60" font-size="8.5" font-weight="normal" text-anchor="start" fill="#000">***</text>
<text x="130.40" y="384.60" font-size="8.5" font-weight="normal" text-anchor="start" fill="#000">***</text>
<text x="0" y="0" transform="translate(14.00,402.20) rotate(-90)" font-size="9.4" font-weight="bold" text-anchor="middle" fill="#000">Cell number 10<tspan font-size="5.5" dy="-3.2">-4</tspan></text>
<text x="83.60" y="480.30" font-size="8.5" font-weight="bold" text-anchor="middle" fill="#000">Days</text>
<text transform="translate(107.34,192.50) scale(0.718,1)" font-size="15.69" font-weight="bold" stroke="#000" stroke-width="0.45" vector-effect="non-scaling-stroke" stroke-linejoin="round">F</text>
<text x="161.00" y="188.90" font-size="12" font-weight="bold" text-anchor="middle" fill="#000">HepG2</text>
<line x1="127.80" y1="195.35" x2="127.80" y2="258.75" stroke="#000" stroke-width="0.9"/>
<line x1="125.60" y1="258.30" x2="201.70" y2="258.30" stroke="#000" stroke-width="0.9"/>
<line x1="125.60" y1="195.80" x2="127.80" y2="195.80" stroke="#000" stroke-width="0.9"/>
<text x="124.40" y="197.82" font-size="5.6" font-weight="bold" text-anchor="end" fill="#000">25</text>
<line x1="125.60" y1="208.30" x2="127.80" y2="208.30" stroke="#000" stroke-width="0.9"/>
<text x="124.40" y="210.32" font-size="5.6" font-weight="bold" text-anchor="end" fill="#000">20</text>
<line x1="125.60" y1="220.70" x2="127.80" y2="220.70" stroke="#000" stroke-width="0.9"/>
<text x="124.40" y="222.72" font-size="5.6" font-weight="bold" text-anchor="end" fill="#000">15</text>
<line x1="125.60" y1="233.10" x2="127.80" y2="233.10" stroke="#000" stroke-width="0.9"/>
<text x="124.40" y="235.12" font-size="5.6" font-weight="bold" text-anchor="end" fill="#000">10</text>
<line x1="125.60" y1="245.80" x2="127.80" y2="245.80" stroke="#000" stroke-width="0.9"/>
<text x="124.40" y="247.82" font-size="5.6" font-weight="bold" text-anchor="end" fill="#000">5</text>
<line x1="125.60" y1="258.30" x2="127.80" y2="258.30" stroke="#000" stroke-width="0.9"/>
<text x="124.40" y="260.32" font-size="5.6" font-weight="bold" text-anchor="end" fill="#000">0</text>
<rect x="132.60" y="212.30" width="9.70" height="46.00" fill="#000"/>
<line x1="137.45" y1="210.20" x2="137.45" y2="212.30" stroke="#000" stroke-width="0.9"/>
<line x1="135.05" y1="210.20" x2="139.85" y2="210.20" stroke="#000" stroke-width="0.9"/>
<line x1="137.45" y1="258.30" x2="137.45" y2="260.50" stroke="#000" stroke-width="0.8"/>
<text x="0" y="0" transform="translate(139.85,265.50) rotate(-45)" font-size="5.8" font-weight="bold" text-anchor="end" fill="#000">Scramble</text>
<rect x="150.80" y="203.70" width="9.70" height="54.60" fill="#0000c8"/>
<line x1="155.65" y1="197.60" x2="155.65" y2="203.70" stroke="#0000c8" stroke-width="0.9"/>
<line x1="153.25" y1="197.60" x2="158.05" y2="197.60" stroke="#0000c8" stroke-width="0.9"/>
<line x1="155.65" y1="258.30" x2="155.65" y2="260.50" stroke="#000" stroke-width="0.8"/>
<text x="0" y="0" transform="translate(158.05,265.50) rotate(-45)" font-size="5.8" font-weight="bold" text-anchor="end" fill="#000">miR-23a-3p-inhibitor</text>
<rect x="168.90" y="221.80" width="9.70" height="36.50" fill="#ff0000"/>
<line x1="173.75" y1="220.00" x2="173.75" y2="221.80" stroke="#ff0000" stroke-width="0.9"/>
<line x1="171.35" y1="220.00" x2="176.15" y2="220.00" stroke="#ff0000" stroke-width="0.9"/>
<line x1="173.75" y1="258.30" x2="173.75" y2="260.50" stroke="#000" stroke-width="0.8"/>
<text x="0" y="0" transform="translate(176.15,265.50) rotate(-45)" font-size="5.8" font-weight="bold" text-anchor="end" fill="#000">miR-27a-3p-inhibitor</text>
<rect x="187.00" y="224.50" width="9.70" height="33.80" fill="#008000"/>
<line x1="191.85" y1="221.20" x2="191.85" y2="224.50" stroke="#008000" stroke-width="0.9"/>
<line x1="189.45" y1="221.20" x2="194.25" y2="221.20" stroke="#008000" stroke-width="0.9"/>
<line x1="191.85" y1="258.30" x2="191.85" y2="260.50" stroke="#000" stroke-width="0.8"/>
<text x="0" y="0" transform="translate(194.25,265.50) rotate(-45)" font-size="5.8" font-weight="bold" text-anchor="end" fill="#000">miR-24-3p-inhibitor</text>
<text x="173.70" y="218.90" font-size="7.6" font-weight="normal" text-anchor="middle" fill="#000">*</text>
<text x="191.80" y="219.50" font-size="7.6" font-weight="normal" text-anchor="middle" fill="#000">*</text>
<text x="0" y="0" transform="translate(115.60,227.10) rotate(-90)" font-size="5.9" font-weight="bold" text-anchor="middle" fill="#000">Wound recorvery %</text>
<text transform="translate(524.41,193.33) scale(0.952,1)" font-size="15.58" font-weight="bold" stroke="#000" stroke-width="0.45" vector-effect="non-scaling-stroke" stroke-linejoin="round">H</text>
<text x="592.00" y="189.90" font-size="12" font-weight="bold" text-anchor="middle" fill="#000">HepG2</text>
<line x1="556.00" y1="191.35" x2="556.00" y2="258.95" stroke="#000" stroke-width="0.9"/>
<line x1="553.80" y1="258.50" x2="634.00" y2="258.50" stroke="#000" stroke-width="0.9"/>
<line x1="553.80" y1="191.80" x2="556.00" y2="191.80" stroke="#000" stroke-width="0.9"/>
<text x="552.60" y="194.03" font-size="6.2" font-weight="bold" text-anchor="end" fill="#000">150</text>
<line x1="553.80" y1="214.00" x2="556.00" y2="214.00" stroke="#000" stroke-width="0.9"/>
<text x="552.60" y="216.23" font-size="6.2" font-weight="bold" text-anchor="end" fill="#000">100</text>
<line x1="553.80" y1="236.30" x2="556.00" y2="236.30" stroke="#000" stroke-width="0.9"/>
<text x="552.60" y="238.53" font-size="6.2" font-weight="bold" text-anchor="end" fill="#000">50</text>
<line x1="553.80" y1="258.50" x2="556.00" y2="258.50" stroke="#000" stroke-width="0.9"/>
<text x="552.60" y="260.73" font-size="6.2" font-weight="bold" text-anchor="end" fill="#000">0</text>
<rect x="559.90" y="241.00" width="10.00" height="17.50" fill="#000"/>
<line x1="564.90" y1="237.70" x2="564.90" y2="241.00" stroke="#000" stroke-width="0.9"/>
<line x1="562.50" y1="237.70" x2="567.30" y2="237.70" stroke="#000" stroke-width="0.9"/>
<line x1="564.90" y1="258.50" x2="564.90" y2="260.70" stroke="#000" stroke-width="0.8"/>
<text x="0" y="0" transform="translate(567.30,265.70) rotate(-45)" font-size="6.05" font-weight="bold" text-anchor="end" fill="#000">Scramble</text>
<rect x="579.50" y="216.20" width="10.00" height="42.30" fill="#0000c8"/>
<line x1="584.50" y1="212.30" x2="584.50" y2="216.20" stroke="#0000c8" stroke-width="0.9"/>
<line x1="582.10" y1="212.30" x2="586.90" y2="212.30" stroke="#0000c8" stroke-width="0.9"/>
<line x1="584.50" y1="258.50" x2="584.50" y2="260.70" stroke="#000" stroke-width="0.8"/>
<text x="0" y="0" transform="translate(586.90,265.70) rotate(-45)" font-size="6.05" font-weight="bold" text-anchor="end" fill="#000">miR-23a-3p-inhibitor</text>
<rect x="599.20" y="251.00" width="10.00" height="7.50" fill="#ff0000"/>
<line x1="604.20" y1="249.20" x2="604.20" y2="251.00" stroke="#ff0000" stroke-width="0.9"/>
<line x1="601.80" y1="249.20" x2="606.60" y2="249.20" stroke="#ff0000" stroke-width="0.9"/>
<line x1="604.20" y1="258.50" x2="604.20" y2="260.70" stroke="#000" stroke-width="0.8"/>
<text x="0" y="0" transform="translate(606.60,265.70) rotate(-45)" font-size="6.05" font-weight="bold" text-anchor="end" fill="#000">miR-27a-3p-inhibitor</text>
<rect x="618.80" y="248.50" width="10.00" height="10.00" fill="#008000"/>
<line x1="623.80" y1="247.30" x2="623.80" y2="248.50" stroke="#008000" stroke-width="0.9"/>
<line x1="621.40" y1="247.30" x2="626.20" y2="247.30" stroke="#008000" stroke-width="0.9"/>
<line x1="623.80" y1="258.50" x2="623.80" y2="260.70" stroke="#000" stroke-width="0.8"/>
<text x="0" y="0" transform="translate(626.20,265.70) rotate(-45)" font-size="6.05" font-weight="bold" text-anchor="end" fill="#000">miR-24-3p-inhibitor</text>
<text x="584.40" y="211.50" font-size="7.6" font-weight="bold" text-anchor="middle" fill="#000">***</text>
<text x="604.00" y="248.10" font-size="7.6" font-weight="bold" text-anchor="middle" fill="#000">**</text>
<text x="623.60" y="246.20" font-size="7.6" font-weight="bold" text-anchor="middle" fill="#000">*</text>
<text x="0" y="0" transform="translate(538.00,225.00) rotate(-90)" font-size="6.4" font-weight="bold" text-anchor="middle" fill="#000">Cell number</text>
<text transform="translate(253.46,354.52) scale(0.779,1)" font-size="16.01" font-weight="bold" stroke="#000" stroke-width="0.45" vector-effect="non-scaling-stroke" stroke-linejoin="round">K</text>
<text x="305.40" y="353.90" font-size="12" font-weight="bold" text-anchor="middle" fill="#000">Huh7</text>
<line x1="273.60" y1="359.55" x2="273.60" y2="423.75" stroke="#000" stroke-width="0.9"/>
<line x1="271.40" y1="423.30" x2="347.40" y2="423.30" stroke="#000" stroke-width="0.9"/>
<line x1="271.40" y1="360.00" x2="273.60" y2="360.00" stroke="#000" stroke-width="0.9"/>
<text x="270.20" y="362.09" font-size="5.8" font-weight="bold" text-anchor="end" fill="#000">40</text>
<line x1="271.40" y1="375.80" x2="273.60" y2="375.80" stroke="#000" stroke-width="0.9"/>
<text x="270.20" y="377.89" font-size="5.8" font-weight="bold" text-anchor="end" fill="#000">30</text>
<line x1="271.40" y1="391.60" x2="273.60" y2="391.60" stroke="#000" stroke-width="0.9"/>
<text x="270.20" y="393.69" font-size="5.8" font-weight="bold" text-anchor="end" fill="#000">20</text>
<line x1="271.40" y1="407.40" x2="273.60" y2="407.40" stroke="#000" stroke-width="0.9"/>
<text x="270.20" y="409.49" font-size="5.8" font-weight="bold" text-anchor="end" fill="#000">10</text>
<line x1="271.40" y1="423.30" x2="273.60" y2="423.30" stroke="#000" stroke-width="0.9"/>
<text x="270.20" y="425.39" font-size="5.8" font-weight="bold" text-anchor="end" fill="#000">0</text>
<rect x="277.50" y="393.50" width="9.80" height="29.80" fill="#000"/>
<line x1="282.40" y1="391.90" x2="282.40" y2="393.50" stroke="#000" stroke-width="0.9"/>
<line x1="280.00" y1="391.90" x2="284.80" y2="391.90" stroke="#000" stroke-width="0.9"/>
<line x1="282.40" y1="423.30" x2="282.40" y2="425.50" stroke="#000" stroke-width="0.8"/>
<text x="0" y="0" transform="translate(284.00,431.00) rotate(-45)" font-size="5.7" font-weight="bold" text-anchor="end" fill="#000">Scramble</text>
<rect x="296.00" y="407.50" width="9.80" height="15.80" fill="#0000c8"/>
<line x1="300.90" y1="405.30" x2="300.90" y2="407.50" stroke="#0000c8" stroke-width="0.9"/>
<line x1="298.50" y1="405.30" x2="303.30" y2="405.30" stroke="#0000c8" stroke-width="0.9"/>
<line x1="300.90" y1="423.30" x2="300.90" y2="425.50" stroke="#000" stroke-width="0.8"/>
<text x="0" y="0" transform="translate(302.50,431.00) rotate(-45)" font-size="5.7" font-weight="bold" text-anchor="end" fill="#000">miR-23a-3p-mimics</text>
<rect x="314.60" y="381.20" width="9.80" height="42.10" fill="#ff0000"/>
<line x1="319.50" y1="378.20" x2="319.50" y2="381.20" stroke="#ff0000" stroke-width="0.9"/>
<line x1="317.10" y1="378.20" x2="321.90" y2="378.20" stroke="#ff0000" stroke-width="0.9"/>
<line x1="319.50" y1="423.30" x2="319.50" y2="425.50" stroke="#000" stroke-width="0.8"/>
<text x="0" y="0" transform="translate(321.10,431.00) rotate(-45)" font-size="5.7" font-weight="bold" text-anchor="end" fill="#000">miR-27a-3p-mimics</text>
<rect x="333.10" y="377.30" width="9.80" height="46.00" fill="#008000"/>
<line x1="338.00" y1="372.70" x2="338.00" y2="377.30" stroke="#008000" stroke-width="0.9"/>
<line x1="335.60" y1="372.70" x2="340.40" y2="372.70" stroke="#008000" stroke-width="0.9"/>
<line x1="338.00" y1="423.30" x2="338.00" y2="425.50" stroke="#000" stroke-width="0.8"/>
<text x="0" y="0" transform="translate(339.60,431.00) rotate(-45)" font-size="5.7" font-weight="bold" text-anchor="end" fill="#000">miR-24-3p-mimics</text>
<text x="300.90" y="404.70" font-size="7.6" font-weight="normal" text-anchor="middle" fill="#000">*</text>
<text x="319.40" y="377.80" font-size="7.6" font-weight="normal" text-anchor="middle" fill="#000">*</text>
<text x="338.00" y="371.90" font-size="7.6" font-weight="normal" text-anchor="middle" fill="#000">*</text>
<text x="0" y="0" transform="translate(260.20,391.80) rotate(-90)" font-size="6.2" font-weight="bold" text-anchor="middle" fill="#000">Wound recorvery %</text>
<text transform="translate(524.79,329.72) scale(1.169,1)" font-size="15.58" font-weight="bold" stroke="#000" stroke-width="0.45" vector-effect="non-scaling-stroke" stroke-linejoin="round">M</text>
<text x="590.00" y="356.20" font-size="12" font-weight="bold" text-anchor="middle" fill="#000">Huh7</text>
<line x1="556.60" y1="353.45" x2="556.60" y2="419.65" stroke="#000" stroke-width="0.9"/>
<line x1="554.40" y1="419.20" x2="633.60" y2="419.20" stroke="#000" stroke-width="0.9"/>
<line x1="554.40" y1="353.90" x2="556.60" y2="353.90" stroke="#000" stroke-width="0.9"/>
<text x="553.20" y="356.13" font-size="6.2" font-weight="bold" text-anchor="end" fill="#000">150</text>
<line x1="554.40" y1="375.70" x2="556.60" y2="375.70" stroke="#000" stroke-width="0.9"/>
<text x="553.20" y="377.93" font-size="6.2" font-weight="bold" text-anchor="end" fill="#000">100</text>
<line x1="554.40" y1="397.40" x2="556.60" y2="397.40" stroke="#000" stroke-width="0.9"/>
<text x="553.20" y="399.63" font-size="6.2" font-weight="bold" text-anchor="end" fill="#000">50</text>
<line x1="554.40" y1="419.20" x2="556.60" y2="419.20" stroke="#000" stroke-width="0.9"/>
<text x="553.20" y="421.43" font-size="6.2" font-weight="bold" text-anchor="end" fill="#000">0</text>
<rect x="561.20" y="390.70" width="10.10" height="28.50" fill="#000"/>
<line x1="566.25" y1="388.40" x2="566.25" y2="390.70" stroke="#000" stroke-width="0.9"/>
<line x1="563.85" y1="388.40" x2="568.65" y2="388.40" stroke="#000" stroke-width="0.9"/>
<line x1="566.25" y1="419.20" x2="566.25" y2="421.40" stroke="#000" stroke-width="0.8"/>
<text x="0" y="0" transform="translate(567.75,427.10) rotate(-45)" font-size="5.8" font-weight="bold" text-anchor="end" fill="#000">Scramble</text>
<rect x="580.30" y="393.70" width="10.10" height="25.50" fill="#0000c8"/>
<line x1="585.35" y1="391.40" x2="585.35" y2="393.70" stroke="#0000c8" stroke-width="0.9"/>
<line x1="582.95" y1="391.40" x2="587.75" y2="391.40" stroke="#0000c8" stroke-width="0.9"/>
<line x1="585.35" y1="419.20" x2="585.35" y2="421.40" stroke="#000" stroke-width="0.8"/>
<text x="0" y="0" transform="translate(586.85,427.10) rotate(-45)" font-size="5.8" font-weight="bold" text-anchor="end" fill="#000">miR-23a-3p-mimics</text>
<rect x="599.40" y="376.00" width="10.20" height="43.20" fill="#ff0000"/>
<line x1="604.50" y1="371.90" x2="604.50" y2="376.00" stroke="#ff0000" stroke-width="0.9"/>
<line x1="602.10" y1="371.90" x2="606.90" y2="371.90" stroke="#ff0000" stroke-width="0.9"/>
<line x1="604.50" y1="419.20" x2="604.50" y2="421.40" stroke="#000" stroke-width="0.8"/>
<text x="0" y="0" transform="translate(606.00,427.10) rotate(-45)" font-size="5.8" font-weight="bold" text-anchor="end" fill="#000">miR-27a-3p-mimics</text>
<rect x="618.60" y="383.20" width="10.10" height="36.00" fill="#008000"/>
<line x1="623.65" y1="380.50" x2="623.65" y2="383.20" stroke="#008000" stroke-width="0.9"/>
<line x1="621.25" y1="380.50" x2="626.05" y2="380.50" stroke="#008000" stroke-width="0.9"/>
<line x1="623.65" y1="419.20" x2="623.65" y2="421.40" stroke="#000" stroke-width="0.8"/>
<text x="0" y="0" transform="translate(625.15,427.10) rotate(-45)" font-size="5.8" font-weight="bold" text-anchor="end" fill="#000">miR-24-3p-mimics</text>
<text x="604.30" y="371.30" font-size="7.6" font-weight="bold" text-anchor="middle" fill="#000">***</text>
<text x="623.80" y="380.60" font-size="7.6" font-weight="bold" text-anchor="middle" fill="#000">*</text>
<text x="0" y="0" transform="translate(539.60,385.80) rotate(-90)" font-size="6.4" font-weight="bold" text-anchor="middle" fill="#000">Cell number</text>
<text x="56.00" y="178.10" font-size="12" font-weight="bold" text-anchor="middle" fill="#000">HepG2</text>
<text transform="translate(1.01,192.43) scale(0.672,1)" font-size="15.14" font-weight="bold" stroke="#000" stroke-width="0.45" vector-effect="non-scaling-stroke" stroke-linejoin="round">E</text>
<text x="37.60" y="185.80" font-size="8.5" font-weight="normal" text-anchor="middle" fill="#000">0 h</text>
<text x="80.30" y="185.80" font-size="8.5" font-weight="normal" text-anchor="middle" fill="#000">24 h</text>
<g>
<rect x="15.40" y="186.80" width="41.50" height="29.60" fill="#b7a68f" filter="url(#nzD)"/>
<rect x="15.40" y="197.50" width="41.50" height="6.20" fill="#bba991" opacity="0.9"/>
<rect x="15.40" y="186.80" width="41.50" height="29.60" fill="url(#vig)"/>
<line x1="15.80" y1="197.80" x2="56.70" y2="197.80" stroke="#ec2f24" stroke-width="1.1" stroke-dasharray="2.2 1.35" opacity="0.92"/>
<line x1="15.80" y1="203.40" x2="56.70" y2="203.40" stroke="#ec2f24" stroke-width="1.1" stroke-dasharray="2.2 1.35" opacity="0.92"/>
<rect x="15.40" y="186.80" width="41.50" height="29.60" fill="none" stroke="#6e6e6e" stroke-width="0.8"/>
</g>
<g>
<rect x="58.30" y="186.80" width="41.70" height="29.60" fill="#b7a68f" filter="url(#nzD)"/>
<rect x="58.30" y="198.20" width="41.70" height="4.60" fill="#bba991" opacity="0.9"/>
<rect x="58.30" y="186.80" width="41.70" height="29.60" fill="url(#vig)"/>
<line x1="58.70" y1="198.50" x2="99.80" y2="198.50" stroke="#ec2f24" stroke-width="1.1" stroke-dasharray="2.2 1.35" opacity="0.92"/>
<line x1="58.70" y1="202.50" x2="99.80" y2="202.50" stroke="#ec2f24" stroke-width="1.1" stroke-dasharray="2.2 1.35" opacity="0.92"/>
<rect x="58.30" y="186.80" width="41.70" height="29.60" fill="none" stroke="#6e6e6e" stroke-width="0.8"/>
</g>
<g>
<rect x="15.40" y="218.20" width="41.50" height="29.50" fill="#b7a68f" filter="url(#nzS)"/>
<rect x="15.40" y="218.20" width="41.50" height="29.50" fill="url(#vig)"/>
<rect x="15.40" y="218.20" width="41.50" height="29.50" fill="url(#blobBL)"/>
<line x1="15.80" y1="230.40" x2="56.70" y2="230.40" stroke="#ec2f24" stroke-width="1.1" stroke-dasharray="2.2 1.35" opacity="0.92"/>
<line x1="15.80" y1="236.30" x2="56.70" y2="236.30" stroke="#ec2f24" stroke-width="1.1" stroke-dasharray="2.2 1.35" opacity="0.92"/>
<rect x="15.40" y="218.20" width="41.50" height="29.50" fill="none" stroke="#6e6e6e" stroke-width="0.8"/>
</g>
<g>
<rect x="58.30" y="218.20" width="41.70" height="29.50" fill="#b7a68f" filter="url(#nzS)"/>
<rect x="58.30" y="218.20" width="41.70" height="29.50" fill="url(#vig)"/>
<rect x="58.30" y="218.20" width="41.70" height="29.50" fill="url(#blobBLs)"/>
<line x1="58.70" y1="231.30" x2="99.80" y2="231.30" stroke="#ec2f24" stroke-width="1.1" stroke-dasharray="2.2 1.35" opacity="0.92"/>
<line x1="58.70" y1="235.50" x2="99.80" y2="235.50" stroke="#ec2f24" stroke-width="1.1" stroke-dasharray="2.2 1.35" opacity="0.92"/>
<rect x="58.30" y="218.20" width="41.70" height="29.50" fill="none" stroke="#6e6e6e" stroke-width="0.8"/>
</g>
<g>
<rect x="15.40" y="249.10" width="41.50" height="29.50" fill="#b7a68f" filter="url(#nzM)"/>
<rect x="15.40" y="261.00" width="41.50" height="4.80" fill="#ae9c84" opacity="0.85"/>
<rect x="15.40" y="249.10" width="41.50" height="29.50" fill="url(#vig)"/>
<line x1="15.80" y1="261.20" x2="56.70" y2="261.20" stroke="#ec2f24" stroke-width="1.1" stroke-dasharray="2.2 1.35" opacity="0.92"/>
<line x1="15.80" y1="265.60" x2="56.70" y2="265.60" stroke="#ec2f24" stroke-width="1.1" stroke-dasharray="2.2 1.35" opacity="0.92"/>
<rect x="15.40" y="249.10" width="41.50" height="29.50" fill="none" stroke="#6e6e6e" stroke-width="0.8"/>
</g>
<g>
<rect x="58.30" y="249.10" width="41.70" height="29.50" fill="#b7a68f" filter="url(#nzM)"/>
<rect x="58.30" y="261.00" width="41.70" height="4.70" fill="#ae9c84" opacity="0.85"/>
<rect x="58.30" y="249.10" width="41.70" height="29.50" fill="url(#vig)"/>
<line x1="58.70" y1="261.20" x2="99.80" y2="261.20" stroke="#ec2f24" stroke-width="1.1" stroke-dasharray="2.2 1.35" opacity="0.92"/>
<line x1="58.70" y1="265.50" x2="99.80" y2="265.50" stroke="#ec2f24" stroke-width="1.1" stroke-dasharray="2.2 1.35" opacity="0.92"/>
<rect x="58.30" y="249.10" width="41.70" height="29.50" fill="none" stroke="#6e6e6e" stroke-width="0.8"/>
</g>
<g>
<rect x="15.40" y="280.40" width="41.50" height="29.10" fill="#b7a68f" filter="url(#nzM)"/>
<rect x="15.40" y="291.20" width="41.50" height="4.40" fill="#ae9c84" opacity="0.85"/>
<rect x="15.40" y="280.40" width="41.50" height="29.10" fill="url(#vig)"/>
<rect x="15.40" y="280.40" width="41.50" height="29.10" fill="url(#blobTR)"/>
<line x1="15.80" y1="291.40" x2="56.70" y2="291.40" stroke="#ec2f24" stroke-width="1.1" stroke-dasharray="2.2 1.35" opacity="0.92"/>
<line x1="15.80" y1="295.40" x2="56.70" y2="295.40" stroke="#ec2f24" stroke-width="1.1" stroke-dasharray="2.2 1.35" opacity="0.92"/>
<rect x="15.40" y="280.40" width="41.50" height="29.10" fill="none" stroke="#6e6e6e" stroke-width="0.8"/>
</g>
<g>
<rect x="58.30" y="280.40" width="41.70" height="29.10" fill="#b7a68f" filter="url(#nzM)"/>
<rect x="58.30" y="291.70" width="41.70" height="5.30" fill="#d3c2aa" opacity="0.9"/>
<rect x="58.30" y="280.40" width="41.70" height="29.10" fill="url(#vig)"/>
<line x1="58.70" y1="291.90" x2="99.80" y2="291.90" stroke="#ec2f24" stroke-width="1.1" stroke-dasharray="2.2 1.35" opacity="0.92"/>
<line x1="58.70" y1="296.40" x2="99.80" y2="296.40" stroke="#ec2f24" stroke-width="1.1" stroke-dasharray="2.2 1.35" opacity="0.92"/>
<rect x="58.30" y="280.40" width="41.70" height="29.10" fill="none" stroke="#6e6e6e" stroke-width="0.8"/>
</g>
<text x="0" y="0" transform="translate(13.00,200.40) rotate(-90)" font-size="5.6" font-weight="normal" text-anchor="middle" fill="#000">Scramble</text>
<text x="0" y="0" transform="translate(6.50,232.35) rotate(-90)" font-size="5.5" font-weight="normal" text-anchor="middle" fill="#000">miR-23a-3p</text>
<text x="0" y="0" transform="translate(13.00,232.95) rotate(-90)" font-size="5.6" font-weight="normal" text-anchor="middle" fill="#000">inhibitor</text>
<text x="0" y="0" transform="translate(6.50,263.25) rotate(-90)" font-size="5.5" font-weight="normal" text-anchor="middle" fill="#000">miR-27a-3p</text>
<text x="0" y="0" transform="translate(13.00,263.85) rotate(-90)" font-size="5.6" font-weight="normal" text-anchor="middle" fill="#000">inhibitor</text>
<text x="0" y="0" transform="translate(6.50,294.35) rotate(-90)" font-size="5.5" font-weight="normal" text-anchor="middle" fill="#000">miR-24-3p</text>
<text x="0" y="0" transform="translate(13.00,294.95) rotate(-90)" font-size="5.6" font-weight="normal" text-anchor="middle" fill="#000">inhibitor</text>
<text x="204.00" y="335.00" font-size="12" font-weight="bold" text-anchor="middle" fill="#000">Huh7</text>
<text transform="translate(142.04,353.77) scale(0.580,1)" font-size="15.79" font-weight="bold" stroke="#000" stroke-width="0.45" vector-effect="non-scaling-stroke" stroke-linejoin="round">J</text>
<text x="183.80" y="345.90" font-size="8.5" font-weight="normal" text-anchor="middle" fill="#000">0 h</text>
<text x="226.60" y="345.90" font-size="8.5" font-weight="normal" text-anchor="middle" fill="#000">24 h</text>
<g>
<rect x="161.30" y="346.90" width="42.30" height="30.10" fill="#b7a68f" filter="url(#nzJ)"/>
<rect x="161.30" y="346.90" width="42.30" height="30.10" fill="url(#vigJ)"/>
<line x1="161.70" y1="358.50" x2="203.40" y2="358.50" stroke="#ec2f24" stroke-width="1.1" stroke-dasharray="2.2 1.35" opacity="0.78"/>
<line x1="161.70" y1="363.40" x2="203.40" y2="363.40" stroke="#ec2f24" stroke-width="1.1" stroke-dasharray="2.2 1.35" opacity="0.78"/>
<rect x="161.30" y="346.90" width="42.30" height="30.10" fill="none" stroke="#6a6a6a" stroke-width="0.8"/>
</g>
<g>
<rect x="205.70" y="346.90" width="42.10" height="30.10" fill="#b7a68f" filter="url(#nzJ2)"/>
<rect x="205.70" y="346.90" width="42.10" height="30.10" fill="url(#vigJ)"/>
<line x1="206.10" y1="359.30" x2="247.60" y2="359.30" stroke="#ec2f24" stroke-width="1.1" stroke-dasharray="2.2 1.35" opacity="0.60"/>
<line x1="206.10" y1="363.20" x2="247.60" y2="363.20" stroke="#ec2f24" stroke-width="1.1" stroke-dasharray="2.2 1.35" opacity="0.60"/>
<rect x="205.70" y="346.90" width="42.10" height="30.10" fill="none" stroke="#6a6a6a" stroke-width="0.8"/>
</g>
<g>
<rect x="161.30" y="378.30" width="42.30" height="29.60" fill="#b7a68f" filter="url(#nzJ)"/>
<rect x="161.30" y="378.30" width="42.30" height="29.60" fill="url(#vigJ)"/>
<line x1="178.3" y1="383.8" x2="174.7" y2="388.2" stroke="#5a4a3a" stroke-width="0.6" opacity="0.8"/>
<line x1="161.70" y1="390.20" x2="203.40" y2="390.20" stroke="#ec2f24" stroke-width="1.1" stroke-dasharray="2.2 1.35" opacity="0.78"/>
<line x1="161.70" y1="394.40" x2="203.40" y2="394.40" stroke="#ec2f24" stroke-width="1.1" stroke-dasharray="2.2 1.35" opacity="0.78"/>
<rect x="161.30" y="378.30" width="42.30" height="29.60" fill="none" stroke="#6a6a6a" stroke-width="0.8"/>
</g>
<g>
<rect x="205.70" y="378.30" width="42.10" height="29.60" fill="#b7a68f" filter="url(#nzJ)"/>
<rect x="205.70" y="378.30" width="42.10" height="29.60" fill="url(#vigJ)"/>
<line x1="221.5" y1="383.8" x2="217.9" y2="388.2" stroke="#5a4a3a" stroke-width="0.6" opacity="0.8"/>
<line x1="206.10" y1="390.20" x2="247.60" y2="390.20" stroke="#ec2f24" stroke-width="1.1" stroke-dasharray="2.2 1.35" opacity="0.78"/>
<line x1="206.10" y1="394.40" x2="247.60" y2="394.40" stroke="#ec2f24" stroke-width="1.1" stroke-dasharray="2.2 1.35" opacity="0.78"/>
<rect x="205.70" y="378.30" width="42.10" height="29.60" fill="none" stroke="#6a6a6a" stroke-width="0.8"/>
</g>
<g>
<rect x="161.30" y="409.60" width="42.30" height="30.00" fill="#b7a68f" filter="url(#nzJ)"/>
<rect x="161.30" y="409.60" width="42.30" height="30.00" fill="url(#vigJ)"/>
<line x1="161.70" y1="421.50" x2="203.40" y2="421.50" stroke="#ec2f24" stroke-width="1.1" stroke-dasharray="2.2 1.35" opacity="0.78"/>
<line x1="161.70" y1="426.40" x2="203.40" y2="426.40" stroke="#ec2f24" stroke-width="1.1" stroke-dasharray="2.2 1.35" opacity="0.78"/>
<rect x="161.30" y="409.60" width="42.30" height="30.00" fill="none" stroke="#6a6a6a" stroke-width="0.8"/>
</g>
<g>
<rect x="205.70" y="409.60" width="42.10" height="30.00" fill="#b7a68f" filter="url(#nzJ)"/>
<rect x="205.70" y="409.60" width="42.10" height="30.00" fill="url(#lightC)"/>
<rect x="205.70" y="409.60" width="42.10" height="30.00" fill="url(#vigJ)"/>
<line x1="206.10" y1="422.30" x2="247.60" y2="422.30" stroke="#ec2f24" stroke-width="1.1" stroke-dasharray="2.2 1.35" opacity="0.78"/>
<line x1="206.10" y1="426.40" x2="247.60" y2="426.40" stroke="#ec2f24" stroke-width="1.1" stroke-dasharray="2.2 1.35" opacity="0.78"/>
<rect x="205.70" y="409.60" width="42.10" height="30.00" fill="none" stroke="#6a6a6a" stroke-width="0.8"/>
</g>
<g>
<rect x="161.30" y="440.90" width="42.30" height="30.30" fill="#b7a68f" filter="url(#nzJ)"/>
<rect x="161.30" y="440.90" width="42.30" height="30.30" fill="url(#vigJ)"/>
<line x1="161.70" y1="451.40" x2="203.40" y2="451.40" stroke="#ec2f24" stroke-width="1.1" stroke-dasharray="2.2 1.35" opacity="0.78"/>
<line x1="161.70" y1="456.40" x2="203.40" y2="456.40" stroke="#ec2f24" stroke-width="1.1" stroke-dasharray="2.2 1.35" opacity="0.78"/>
<rect x="161.30" y="440.90" width="42.30" height="30.30" fill="none" stroke="#6a6a6a" stroke-width="0.8"/>
</g>
<g>
<rect x="205.70" y="440.90" width="42.10" height="30.30" fill="#b7a68f" filter="url(#nzJ)"/>
<rect x="205.70" y="440.90" width="42.10" height="30.30" fill="url(#vigJ)"/>
<line x1="206.10" y1="452.30" x2="247.60" y2="452.30" stroke="#ec2f24" stroke-width="1.1" stroke-dasharray="2.2 1.35" opacity="0.46"/>
<line x1="206.10" y1="456.10" x2="247.60" y2="456.10" stroke="#ec2f24" stroke-width="1.1" stroke-dasharray="2.2 1.35" opacity="0.46"/>
<rect x="205.70" y="440.90" width="42.10" height="30.30" fill="none" stroke="#6a6a6a" stroke-width="0.8"/>
</g>
<line x1="161.00" y1="377.60" x2="203.90" y2="377.60" stroke="#3e3e3e" stroke-width="0.9"/>
<line x1="205.40" y1="377.60" x2="248.10" y2="377.60" stroke="#3e3e3e" stroke-width="0.9"/>
<line x1="161.00" y1="408.70" x2="203.90" y2="408.70" stroke="#3e3e3e" stroke-width="0.9"/>
<line x1="205.40" y1="408.70" x2="248.10" y2="408.70" stroke="#3e3e3e" stroke-width="0.9"/>
<line x1="161.00" y1="440.20" x2="203.90" y2="440.20" stroke="#3e3e3e" stroke-width="0.9"/>
<line x1="205.40" y1="440.20" x2="248.10" y2="440.20" stroke="#3e3e3e" stroke-width="0.9"/>
<line x1="161.00" y1="471.40" x2="203.90" y2="471.40" stroke="#3e3e3e" stroke-width="0.9"/>
<line x1="205.40" y1="471.40" x2="248.10" y2="471.40" stroke="#3e3e3e" stroke-width="0.9"/>
<text x="0" y="0" transform="translate(158.70,361.95) rotate(-90)" font-size="5.5" font-weight="normal" text-anchor="middle" fill="#000">Scramble</text>
<text x="0" y="0" transform="translate(152.60,393.10) rotate(-90)" font-size="5.5" font-weight="normal" text-anchor="middle" fill="#000">miR-23a-3p</text>
<text x="0" y="0" transform="translate(158.70,393.10) rotate(-90)" font-size="5.5" font-weight="normal" text-anchor="middle" fill="#000">mimic</text>
<text x="0" y="0" transform="translate(152.60,424.60) rotate(-90)" font-size="5.5" font-weight="normal" text-anchor="middle" fill="#000">miR-27a-3p</text>
<text x="0" y="0" transform="translate(158.70,424.60) rotate(-90)" font-size="5.5" font-weight="normal" text-anchor="middle" fill="#000">mimic</text>
<text x="0" y="0" transform="translate(152.60,456.05) rotate(-90)" font-size="5.5" font-weight="normal" text-anchor="middle" fill="#000">miR-24-3p</text>
<text x="0" y="0" transform="translate(158.70,456.05) rotate(-90)" font-size="5.5" font-weight="normal" text-anchor="middle" fill="#000">mimic</text>
<text transform="translate(206.91,193.47) scale(0.885,1)" font-size="15.99" font-weight="bold" stroke="#000" stroke-width="0.45" vector-effect="non-scaling-stroke" stroke-linejoin="round">G</text>
<text x="366.00" y="189.80" font-size="12" font-weight="bold" text-anchor="middle" fill="#000">HepG2</text>
<clipPath id="cp11"><rect x="215.50" y="214.60" width="73.80" height="64.10"/></clipPath>
<rect x="215.50" y="214.60" width="73.80" height="64.10" fill="#000004"/>
<g clip-path="url(#cp11)" fill="#0c10ff" filter="url(#soft)">
<circle cx="248.9" cy="250.5" r="0.91" opacity="0.71"/>
<circle cx="253.0" cy="252.3" r="0.54" opacity="0.73"/>
<circle cx="262.0" cy="265.4" r="0.50" opacity="0.62"/>
<circle cx="222.2" cy="266.5" r="0.80" opacity="0.47"/>
<circle cx="288.0" cy="276.4" r="0.78" opacity="0.79"/>
<circle cx="227.1" cy="215.6" r="0.71" opacity="0.48"/>
<circle cx="229.5" cy="230.1" r="0.47" opacity="0.71"/>
<circle cx="248.0" cy="268.6" r="0.71" opacity="0.80"/>
<circle cx="252.4" cy="257.1" r="0.68" opacity="0.60"/>
<circle cx="289.1" cy="278.4" r="0.87" opacity="0.84"/>
<circle cx="238.8" cy="229.3" r="0.59" opacity="0.49"/>
<circle cx="272.1" cy="240.3" r="0.87" opacity="0.66"/>
<circle cx="286.2" cy="268.9" r="0.45" opacity="0.57"/>
<circle cx="282.7" cy="244.7" r="0.94" opacity="0.67"/>
<circle cx="220.9" cy="254.9" r="0.84" opacity="0.60"/>
<circle cx="221.9" cy="235.9" r="0.93" opacity="0.87"/>
<circle cx="224.2" cy="230.4" r="0.50" opacity="0.48"/>
<circle cx="274.3" cy="226.0" r="0.73" opacity="0.70"/>
<circle cx="229.6" cy="261.5" r="0.52" opacity="0.80"/>
<circle cx="224.1" cy="241.6" r="0.56" opacity="0.60"/>
<circle cx="287.2" cy="266.1" r="0.60" opacity="0.94"/>
<circle cx="231.1" cy="239.9" r="0.88" opacity="0.80"/>
<circle cx="222.9" cy="278.0" r="0.56" opacity="0.59"/>
<circle cx="272.5" cy="235.7" r="0.60" opacity="0.49"/>
<circle cx="222.2" cy="252.0" r="0.57" opacity="0.78"/>
<circle cx="242.9" cy="243.7" r="0.93" opacity="0.72"/>
<circle cx="257.9" cy="270.1" r="0.54" opacity="0.53"/>
<circle cx="282.5" cy="267.0" r="0.57" opacity="0.55"/>
<circle cx="270.1" cy="274.9" r="0.55" opacity="0.97"/>
<circle cx="280.6" cy="253.3" r="0.66" opacity="0.51"/>
<circle cx="218.4" cy="276.3" r="0.57" opacity="0.84"/>
<circle cx="234.5" cy="267.4" r="0.75" opacity="0.61"/>
<circle cx="228.4" cy="260.8" r="0.48" opacity="0.58"/>
<circle cx="256.8" cy="269.2" r="0.76" opacity="0.60"/>
<circle cx="283.2" cy="227.7" r="0.46" opacity="0.60"/>
<circle cx="248.4" cy="218.5" r="0.54" opacity="0.65"/>
<circle cx="257.7" cy="223.0" r="0.63" opacity="0.94"/>
<circle cx="287.9" cy="256.7" r="0.80" opacity="0.77"/>
<circle cx="225.9" cy="216.8" r="0.46" opacity="0.95"/>
<circle cx="267.2" cy="276.3" r="0.46" opacity="0.80"/>
<circle cx="251.1" cy="261.4" r="0.61" opacity="1.00"/>
<circle cx="221.1" cy="249.6" r="0.82" opacity="0.95"/>
<circle cx="269.9" cy="259.7" r="0.85" opacity="0.95"/>
<circle cx="241.5" cy="258.5" r="0.90" opacity="0.93"/>
<circle cx="246.3" cy="265.3" r="0.88" opacity="0.77"/>
<circle cx="261.6" cy="239.1" r="0.74" opacity="0.78"/>
<circle cx="221.4" cy="255.6" r="0.95" opacity="0.93"/>
<circle cx="269.2" cy="239.5" r="0.82" opacity="0.77"/>
<circle cx="248.0" cy="268.3" r="0.49" opacity="0.86"/>
<circle cx="217.7" cy="253.1" r="0.69" opacity="0.58"/>
<circle cx="267.0" cy="246.5" r="0.76" opacity="0.96"/>
<circle cx="234.4" cy="215.3" r="0.60" opacity="0.82"/>
<circle cx="230.4" cy="225.5" r="0.90" opacity="0.81"/>
<circle cx="248.1" cy="271.8" r="0.61" opacity="0.82"/>
<circle cx="230.1" cy="242.2" r="0.85" opacity="0.95"/>
<circle cx="280.5" cy="239.2" r="0.74" opacity="0.62"/>
<circle cx="225.5" cy="246.4" r="0.87" opacity="0.92"/>
<circle cx="268.0" cy="275.5" r="0.59" opacity="0.54"/>
<circle cx="248.8" cy="232.2" r="0.56" opacity="0.68"/>
<circle cx="261.7" cy="246.3" r="0.61" opacity="0.91"/>
</g>
<text x="286.70" y="269.90" font-size="7.0" font-weight="bold" text-anchor="end" fill="#f2f2f2">50µm</text>
<line x1="281.30" y1="272.60" x2="287.30" y2="272.60" stroke="#fff" stroke-width="1.8"/>
<clipPath id="cp12"><rect x="291.00" y="214.60" width="73.40" height="64.10"/></clipPath>
<rect x="291.00" y="214.60" width="73.40" height="64.10" fill="#000004"/>
<g clip-path="url(#cp12)" fill="#0c10ff" filter="url(#soft)">
<circle cx="325.8" cy="256.7" r="0.78" opacity="0.53"/>
<circle cx="291.8" cy="238.6" r="0.59" opacity="0.90"/>
<circle cx="341.7" cy="253.2" r="0.73" opacity="0.81"/>
<circle cx="301.7" cy="242.8" r="0.53" opacity="0.95"/>
<circle cx="295.3" cy="267.1" r="0.49" opacity="0.83"/>
<circle cx="315.7" cy="240.5" r="0.87" opacity="0.46"/>
<circle cx="295.5" cy="273.3" r="0.70" opacity="0.50"/>
<circle cx="363.5" cy="275.3" r="0.51" opacity="0.68"/>
<circle cx="300.9" cy="234.6" r="0.76" opacity="0.54"/>
<circle cx="342.1" cy="217.9" r="0.54" opacity="0.90"/>
<circle cx="320.4" cy="241.4" r="0.75" opacity="0.71"/>
<circle cx="319.2" cy="216.6" r="0.81" opacity="0.98"/>
<circle cx="362.7" cy="257.1" r="0.63" opacity="0.65"/>
<circle cx="341.7" cy="257.8" r="0.51" opacity="0.58"/>
<circle cx="317.7" cy="247.4" r="0.86" opacity="0.73"/>
<circle cx="293.1" cy="267.3" r="0.67" opacity="0.74"/>
<circle cx="307.3" cy="242.0" r="0.64" opacity="0.87"/>
<circle cx="298.5" cy="249.9" r="0.54" opacity="0.83"/>
<circle cx="293.7" cy="232.3" r="0.62" opacity="0.80"/>
<circle cx="294.8" cy="244.0" r="0.55" opacity="0.61"/>
<circle cx="326.0" cy="276.1" r="0.69" opacity="0.98"/>
<circle cx="303.3" cy="273.8" r="0.63" opacity="0.55"/>
<circle cx="345.9" cy="273.1" r="0.45" opacity="0.60"/>
<circle cx="347.6" cy="236.5" r="0.57" opacity="0.45"/>
<circle cx="293.9" cy="254.3" r="0.94" opacity="1.00"/>
<circle cx="328.0" cy="216.1" r="0.61" opacity="0.88"/>
<circle cx="352.1" cy="255.6" r="0.56" opacity="0.74"/>
<circle cx="326.0" cy="254.8" r="0.58" opacity="0.97"/>
<circle cx="356.6" cy="225.0" r="0.60" opacity="0.93"/>
<circle cx="311.4" cy="275.1" r="0.71" opacity="0.83"/>
<circle cx="342.7" cy="228.3" r="0.59" opacity="0.59"/>
<circle cx="341.2" cy="259.1" r="0.52" opacity="0.94"/>
<circle cx="321.9" cy="230.1" r="0.67" opacity="0.99"/>
<circle cx="332.1" cy="254.6" r="0.91" opacity="0.98"/>
<circle cx="346.8" cy="241.4" r="0.74" opacity="0.95"/>
<circle cx="348.9" cy="251.8" r="0.62" opacity="0.65"/>
<circle cx="345.0" cy="250.7" r="0.46" opacity="0.84"/>
<circle cx="357.3" cy="265.7" r="0.90" opacity="0.95"/>
<circle cx="330.3" cy="265.2" r="0.64" opacity="0.50"/>
<circle cx="316.9" cy="234.6" r="0.92" opacity="0.83"/>
<circle cx="330.8" cy="254.5" r="0.51" opacity="0.74"/>
<circle cx="342.4" cy="239.9" r="0.57" opacity="0.67"/>
<circle cx="314.8" cy="258.5" r="0.52" opacity="0.50"/>
<circle cx="313.9" cy="259.2" r="0.83" opacity="0.81"/>
<circle cx="359.6" cy="238.0" r="0.46" opacity="0.72"/>
<circle cx="323.6" cy="226.1" r="0.78" opacity="0.64"/>
<circle cx="308.5" cy="235.6" r="0.92" opacity="0.45"/>
<circle cx="317.4" cy="232.5" r="0.55" opacity="0.69"/>
<circle cx="307.2" cy="273.5" r="0.70" opacity="0.83"/>
<circle cx="302.9" cy="244.4" r="0.75" opacity="0.91"/>
<circle cx="309.3" cy="244.1" r="0.88" opacity="0.91"/>
<circle cx="307.7" cy="249.1" r="0.83" opacity="0.67"/>
<circle cx="340.4" cy="257.1" r="0.94" opacity="0.75"/>
<circle cx="341.0" cy="237.0" r="0.82" opacity="0.63"/>
<circle cx="327.7" cy="237.7" r="0.60" opacity="0.52"/>
<circle cx="307.6" cy="249.5" r="0.58" opacity="0.48"/>
<circle cx="350.0" cy="232.9" r="0.92" opacity="0.78"/>
<circle cx="319.6" cy="270.6" r="0.90" opacity="0.63"/>
<circle cx="300.2" cy="255.7" r="0.87" opacity="0.78"/>
<circle cx="348.6" cy="241.0" r="0.76" opacity="0.59"/>
<circle cx="320.9" cy="238.9" r="0.64" opacity="0.67"/>
<circle cx="350.2" cy="225.5" r="0.55" opacity="0.59"/>
<circle cx="362.3" cy="248.1" r="0.48" opacity="0.91"/>
<circle cx="355.1" cy="267.2" r="0.63" opacity="0.85"/>
<circle cx="313.4" cy="223.4" r="0.88" opacity="0.91"/>
<circle cx="306.5" cy="271.0" r="0.46" opacity="0.62"/>
<circle cx="292.0" cy="225.6" r="0.53" opacity="0.84"/>
<circle cx="312.8" cy="226.8" r="0.54" opacity="0.62"/>
<circle cx="354.3" cy="253.5" r="0.50" opacity="0.83"/>
<circle cx="330.4" cy="243.3" r="0.71" opacity="0.81"/>
<circle cx="349.8" cy="247.0" r="0.77" opacity="0.71"/>
<circle cx="337.5" cy="239.5" r="0.66" opacity="0.73"/>
<circle cx="343.5" cy="232.5" r="0.91" opacity="0.72"/>
<circle cx="353.8" cy="258.9" r="0.93" opacity="0.83"/>
<circle cx="322.3" cy="240.6" r="0.75" opacity="0.86"/>
<circle cx="352.6" cy="222.9" r="0.48" opacity="0.51"/>
<circle cx="297.2" cy="218.2" r="0.45" opacity="0.59"/>
<circle cx="299.3" cy="258.5" r="0.76" opacity="0.98"/>
<circle cx="361.5" cy="262.5" r="0.92" opacity="0.47"/>
<circle cx="307.7" cy="274.0" r="0.69" opacity="0.56"/>
<circle cx="346.5" cy="241.7" r="0.72" opacity="0.62"/>
<circle cx="308.7" cy="220.2" r="0.75" opacity="0.97"/>
<circle cx="363.4" cy="263.7" r="0.92" opacity="0.65"/>
<circle cx="312.9" cy="273.8" r="0.75" opacity="0.82"/>
<circle cx="291.9" cy="229.2" r="0.69" opacity="0.85"/>
<circle cx="351.6" cy="263.1" r="0.62" opacity="0.66"/>
<circle cx="354.3" cy="278.0" r="0.69" opacity="0.56"/>
<circle cx="336.8" cy="249.0" r="0.63" opacity="0.58"/>
<circle cx="319.3" cy="253.9" r="0.51" opacity="0.75"/>
<circle cx="360.9" cy="262.4" r="0.58" opacity="0.68"/>
<circle cx="298.5" cy="261.8" r="0.77" opacity="0.55"/>
<circle cx="331.2" cy="252.8" r="0.74" opacity="0.66"/>
<circle cx="313.7" cy="237.3" r="0.95" opacity="0.63"/>
<circle cx="327.9" cy="244.1" r="0.54" opacity="0.67"/>
<circle cx="306.0" cy="235.3" r="0.63" opacity="0.64"/>
<circle cx="359.8" cy="233.6" r="0.62" opacity="0.81"/>
<circle cx="320.2" cy="247.7" r="0.77" opacity="0.49"/>
<circle cx="340.3" cy="221.1" r="0.58" opacity="0.90"/>
<circle cx="363.6" cy="257.8" r="0.54" opacity="0.69"/>
<circle cx="311.7" cy="268.5" r="0.57" opacity="0.56"/>
<circle cx="337.8" cy="255.4" r="0.74" opacity="0.71"/>
<circle cx="361.4" cy="244.0" r="0.92" opacity="0.67"/>
<circle cx="325.2" cy="237.6" r="0.81" opacity="0.86"/>
<circle cx="308.6" cy="248.3" r="0.81" opacity="0.73"/>
<circle cx="339.6" cy="254.1" r="0.81" opacity="0.65"/>
<circle cx="313.5" cy="216.2" r="0.90" opacity="0.88"/>
<circle cx="319.6" cy="276.6" r="0.90" opacity="0.53"/>
<circle cx="352.4" cy="241.6" r="0.61" opacity="0.59"/>
<circle cx="321.4" cy="217.9" r="0.48" opacity="0.51"/>
<circle cx="313.6" cy="224.8" r="0.51" opacity="0.91"/>
<circle cx="318.9" cy="246.0" r="0.75" opacity="0.96"/>
<circle cx="301.7" cy="229.2" r="0.88" opacity="0.95"/>
<circle cx="359.4" cy="248.5" r="0.63" opacity="0.55"/>
<circle cx="357.8" cy="263.7" r="0.73" opacity="0.89"/>
<circle cx="310.1" cy="248.8" r="0.90" opacity="0.51"/>
<circle cx="336.3" cy="226.5" r="0.87" opacity="0.91"/>
<circle cx="338.3" cy="242.5" r="0.46" opacity="0.72"/>
<circle cx="317.4" cy="240.2" r="0.49" opacity="0.96"/>
<circle cx="329.3" cy="250.6" r="0.87" opacity="0.94"/>
<circle cx="331.3" cy="249.5" r="0.87" opacity="0.65"/>
<circle cx="357.1" cy="216.2" r="0.85" opacity="0.74"/>
<circle cx="336.7" cy="278.1" r="0.56" opacity="0.67"/>
<circle cx="349.7" cy="262.5" r="0.71" opacity="0.88"/>
<circle cx="340.7" cy="270.3" r="0.78" opacity="0.65"/>
<circle cx="312.1" cy="219.9" r="0.51" opacity="0.47"/>
<circle cx="362.6" cy="223.6" r="0.75" opacity="0.52"/>
<circle cx="361.9" cy="248.7" r="0.54" opacity="0.90"/>
<circle cx="354.1" cy="277.3" r="0.56" opacity="0.67"/>
<circle cx="339.5" cy="232.7" r="0.73" opacity="0.84"/>
<circle cx="346.2" cy="267.4" r="0.83" opacity="0.61"/>
<circle cx="346.5" cy="242.4" r="0.53" opacity="0.46"/>
<circle cx="336.7" cy="237.5" r="0.50" opacity="0.72"/>
<circle cx="321.5" cy="235.4" r="0.73" opacity="0.75"/>
<circle cx="329.9" cy="277.9" r="0.90" opacity="0.61"/>
<circle cx="355.0" cy="234.8" r="0.92" opacity="0.48"/>
</g>
<text x="361.80" y="269.90" font-size="7.0" font-weight="bold" text-anchor="end" fill="#f2f2f2">50µm</text>
<line x1="356.40" y1="272.60" x2="362.40" y2="272.60" stroke="#fff" stroke-width="1.8"/>
<clipPath id="cp13"><rect x="368.50" y="213.90" width="73.20" height="64.00"/></clipPath>
<rect x="368.50" y="213.90" width="73.20" height="64.00" fill="#05051c"/>
<g clip-path="url(#cp13)" fill="#0c10ff" filter="url(#soft)">
<circle cx="387.5" cy="257.8" r="0.79" opacity="0.92"/>
<circle cx="382.1" cy="228.7" r="0.52" opacity="0.57"/>
<circle cx="422.2" cy="222.2" r="0.72" opacity="0.57"/>
<circle cx="390.1" cy="241.5" r="0.87" opacity="0.78"/>
<circle cx="369.6" cy="231.6" r="0.52" opacity="0.93"/>
<circle cx="427.8" cy="265.5" r="0.86" opacity="0.86"/>
<circle cx="438.0" cy="264.7" r="0.58" opacity="0.92"/>
<circle cx="404.1" cy="262.2" r="0.73" opacity="0.69"/>
<circle cx="395.2" cy="241.4" r="0.61" opacity="0.51"/>
<circle cx="428.5" cy="265.0" r="0.94" opacity="0.83"/>
<circle cx="409.1" cy="261.8" r="0.52" opacity="0.82"/>
<circle cx="401.0" cy="225.2" r="0.55" opacity="0.74"/>
<circle cx="387.0" cy="243.3" r="0.75" opacity="0.67"/>
<circle cx="378.1" cy="245.3" r="0.57" opacity="0.58"/>
<circle cx="382.7" cy="237.4" r="0.49" opacity="0.81"/>
<circle cx="438.3" cy="238.8" r="0.81" opacity="0.96"/>
<circle cx="371.7" cy="223.0" r="0.85" opacity="0.91"/>
<circle cx="415.3" cy="224.1" r="0.66" opacity="0.93"/>
<circle cx="433.4" cy="265.3" r="0.55" opacity="0.92"/>
<circle cx="395.9" cy="259.8" r="0.52" opacity="0.98"/>
<circle cx="412.7" cy="260.2" r="0.56" opacity="0.79"/>
<circle cx="411.0" cy="251.7" r="0.63" opacity="0.85"/>
<circle cx="393.5" cy="232.8" r="0.53" opacity="0.83"/>
<circle cx="376.7" cy="228.3" r="0.48" opacity="0.80"/>
</g>
<text x="439.10" y="269.90" font-size="7.0" font-weight="bold" text-anchor="end" fill="#f2f2f2">50µm</text>
<line x1="433.70" y1="272.60" x2="439.70" y2="272.60" stroke="#fff" stroke-width="1.8"/>
<clipPath id="cp14"><rect x="444.00" y="214.90" width="74.60" height="63.70"/></clipPath>
<rect x="444.00" y="214.90" width="74.60" height="63.70" fill="#01010a"/>
<g clip-path="url(#cp14)" fill="#0c10ff" filter="url(#soft)">
<circle cx="452.0" cy="259.7" r="0.78" opacity="0.97"/>
<circle cx="464.2" cy="231.2" r="0.82" opacity="0.81"/>
<circle cx="466.6" cy="258.5" r="0.65" opacity="0.88"/>
<circle cx="452.8" cy="229.1" r="0.90" opacity="0.65"/>
<circle cx="463.4" cy="266.1" r="0.77" opacity="0.53"/>
<circle cx="485.1" cy="257.2" r="0.53" opacity="0.81"/>
<circle cx="453.2" cy="236.4" r="0.49" opacity="0.56"/>
<circle cx="517.0" cy="240.6" r="0.95" opacity="0.69"/>
<circle cx="489.3" cy="270.5" r="0.79" opacity="0.51"/>
<circle cx="487.9" cy="255.3" r="0.54" opacity="0.50"/>
<circle cx="509.3" cy="247.6" r="0.55" opacity="0.70"/>
<circle cx="460.3" cy="265.7" r="0.70" opacity="0.51"/>
<circle cx="505.0" cy="220.6" r="0.59" opacity="0.47"/>
<circle cx="499.2" cy="222.2" r="0.71" opacity="0.50"/>
<circle cx="479.8" cy="258.6" r="0.72" opacity="0.70"/>
<circle cx="480.2" cy="242.7" r="0.75" opacity="0.50"/>
<circle cx="479.4" cy="229.9" r="0.88" opacity="0.97"/>
<circle cx="449.0" cy="224.0" r="0.80" opacity="0.76"/>
<circle cx="445.4" cy="259.8" r="0.92" opacity="0.68"/>
<circle cx="469.9" cy="251.2" r="0.92" opacity="0.59"/>
<circle cx="466.6" cy="226.9" r="0.76" opacity="0.71"/>
<circle cx="463.1" cy="239.6" r="0.47" opacity="0.62"/>
<circle cx="517.3" cy="252.2" r="0.59" opacity="0.96"/>
<circle cx="470.7" cy="230.9" r="0.47" opacity="0.53"/>
<circle cx="458.8" cy="229.6" r="0.89" opacity="0.60"/>
<circle cx="462.5" cy="253.4" r="0.91" opacity="0.61"/>
<circle cx="500.8" cy="238.4" r="0.73" opacity="0.78"/>
<circle cx="514.3" cy="263.1" r="0.70" opacity="0.91"/>
<circle cx="471.3" cy="239.4" r="0.93" opacity="0.75"/>
<circle cx="501.7" cy="234.9" r="0.91" opacity="0.79"/>
<circle cx="462.4" cy="274.4" r="0.68" opacity="0.64"/>
<circle cx="463.6" cy="221.5" r="0.55" opacity="0.83"/>
<circle cx="454.5" cy="231.4" r="0.67" opacity="0.75"/>
<circle cx="472.4" cy="264.9" r="0.58" opacity="0.65"/>
<circle cx="475.7" cy="223.1" r="0.56" opacity="0.53"/>
<circle cx="498.1" cy="224.2" r="0.78" opacity="0.57"/>
<circle cx="492.3" cy="256.7" r="0.63" opacity="0.96"/>
<circle cx="493.0" cy="250.4" r="0.47" opacity="0.67"/>
<circle cx="463.8" cy="244.8" r="0.92" opacity="0.93"/>
<circle cx="448.6" cy="258.2" r="0.92" opacity="0.75"/>
<circle cx="451.2" cy="270.1" r="0.66" opacity="0.99"/>
<circle cx="509.2" cy="267.7" r="0.92" opacity="0.49"/>
<circle cx="503.2" cy="234.3" r="0.52" opacity="0.66"/>
<circle cx="487.9" cy="215.2" r="0.67" opacity="0.88"/>
<circle cx="480.9" cy="248.5" r="0.60" opacity="0.98"/>
<circle cx="462.5" cy="258.3" r="0.77" opacity="0.45"/>
<circle cx="518.3" cy="229.9" r="0.94" opacity="0.96"/>
<circle cx="511.2" cy="269.4" r="0.65" opacity="0.69"/>
</g>
<text x="516.00" y="269.90" font-size="7.0" font-weight="bold" text-anchor="end" fill="#f2f2f2">50µm</text>
<line x1="510.60" y1="272.60" x2="516.60" y2="272.60" stroke="#fff" stroke-width="1.8"/>
<text x="253.40" y="209.60" font-size="8.2" font-weight="normal" text-anchor="middle" fill="#000">Scramble</text>
<text x="326.00" y="201.90" font-size="8.2" font-weight="normal" text-anchor="middle" fill="#000">miR-23a-3p</text>
<text x="326.00" y="211.60" font-size="8.2" font-weight="normal" text-anchor="middle" fill="#000">inhibitor</text>
<text x="403.60" y="201.90" font-size="8.2" font-weight="normal" text-anchor="middle" fill="#000">miR-27a-3p</text>
<text x="403.60" y="211.60" font-size="8.2" font-weight="normal" text-anchor="middle" fill="#000">inhibitor</text>
<text x="478.60" y="201.90" font-size="8.2" font-weight="normal" text-anchor="middle" fill="#000">miR-24-3p</text>
<text x="478.60" y="211.60" font-size="8.2" font-weight="normal" text-anchor="middle" fill="#000">inhibitor</text>
<text transform="translate(354.37,328.62) scale(0.692,1)" font-size="15.58" font-weight="bold" stroke="#000" stroke-width="0.45" vector-effect="non-scaling-stroke" stroke-linejoin="round">L</text>
<text x="439.10" y="324.90" font-size="12" font-weight="bold" text-anchor="middle" fill="#000">Huh7</text>
<text x="399.90" y="343.60" font-size="8.25" font-weight="normal" text-anchor="middle" fill="#000">Scramble</text>
<text x="475.10" y="334.70" font-size="8.25" font-weight="normal" text-anchor="middle" fill="#000">miR-23a-3p</text>
<text x="475.10" y="344.20" font-size="8.25" font-weight="normal" text-anchor="middle" fill="#000">mimic</text>
<text x="399.10" y="420.00" font-size="8.25" font-weight="normal" text-anchor="middle" fill="#000">miR-27a-3p</text>
<text x="399.10" y="429.00" font-size="8.25" font-weight="normal" text-anchor="middle" fill="#000">mimic</text>
<text x="477.00" y="420.00" font-size="8.25" font-weight="normal" text-anchor="middle" fill="#000">miR-24-3p</text>
<text x="477.00" y="429.00" font-size="8.25" font-weight="normal" text-anchor="middle" fill="#000">mimic</text>
<clipPath id="cp31"><rect x="362.60" y="346.80" width="73.90" height="63.90"/></clipPath>
<rect x="362.60" y="346.80" width="73.90" height="63.90" fill="#04041c"/>
<g clip-path="url(#cp31)" fill="#0c10ff" filter="url(#soft)">
<circle cx="363.5" cy="354.0" r="0.92" opacity="0.87"/>
<circle cx="372.8" cy="354.0" r="0.83" opacity="0.90"/>
<circle cx="373.5" cy="394.1" r="1.06" opacity="0.65"/>
<circle cx="402.2" cy="375.4" r="0.93" opacity="1.00"/>
<circle cx="369.5" cy="348.1" r="1.22" opacity="0.76"/>
<circle cx="377.3" cy="367.9" r="0.90" opacity="0.98"/>
<circle cx="378.1" cy="360.7" r="1.02" opacity="0.82"/>
<circle cx="433.1" cy="400.4" r="0.90" opacity="0.68"/>
<circle cx="424.4" cy="410.0" r="0.72" opacity="0.89"/>
<circle cx="426.8" cy="388.4" r="0.82" opacity="0.92"/>
<circle cx="416.5" cy="359.2" r="1.05" opacity="0.69"/>
<circle cx="365.7" cy="368.3" r="0.88" opacity="0.76"/>
<circle cx="410.4" cy="400.2" r="1.23" opacity="0.99"/>
<circle cx="436.0" cy="397.3" r="0.87" opacity="0.67"/>
<circle cx="408.7" cy="381.7" r="1.07" opacity="0.64"/>
<circle cx="376.8" cy="405.7" r="1.03" opacity="0.88"/>
<circle cx="369.7" cy="372.3" r="1.20" opacity="0.86"/>
<circle cx="435.9" cy="359.4" r="0.95" opacity="0.92"/>
<circle cx="395.5" cy="397.2" r="1.01" opacity="0.65"/>
<circle cx="369.9" cy="409.6" r="0.77" opacity="0.68"/>
<circle cx="387.4" cy="392.4" r="1.17" opacity="0.79"/>
<circle cx="399.4" cy="397.2" r="0.85" opacity="0.75"/>
<circle cx="407.9" cy="387.5" r="0.72" opacity="0.64"/>
<circle cx="372.8" cy="393.1" r="1.08" opacity="0.99"/>
<circle cx="419.3" cy="363.1" r="1.12" opacity="0.99"/>
<circle cx="388.4" cy="347.5" r="0.91" opacity="0.71"/>
<circle cx="375.6" cy="349.7" r="0.77" opacity="0.95"/>
<circle cx="366.3" cy="386.0" r="0.81" opacity="0.68"/>
<circle cx="423.3" cy="365.9" r="0.80" opacity="0.78"/>
<circle cx="414.0" cy="380.3" r="1.17" opacity="0.76"/>
<circle cx="401.3" cy="392.6" r="0.95" opacity="0.89"/>
<circle cx="397.1" cy="355.3" r="0.77" opacity="0.91"/>
<circle cx="417.6" cy="407.0" r="1.08" opacity="0.83"/>
<circle cx="374.9" cy="401.3" r="0.77" opacity="0.77"/>
<circle cx="373.0" cy="371.1" r="0.87" opacity="0.77"/>
<circle cx="415.1" cy="381.4" r="0.83" opacity="0.91"/>
</g>
<text x="433.90" y="402.20" font-size="7.0" font-weight="bold" text-anchor="end" fill="#f2f2f2">50µm</text>
<line x1="428.90" y1="405.10" x2="434.80" y2="405.10" stroke="#fff" stroke-width="1.8"/>
<clipPath id="cp32"><rect x="439.00" y="346.80" width="74.20" height="63.90"/></clipPath>
<rect x="439.00" y="346.80" width="74.20" height="63.90" fill="#04041c"/>
<g clip-path="url(#cp32)" fill="#0c10ff" filter="url(#soft)">
<circle cx="444.7" cy="360.5" r="0.87" opacity="0.96"/>
<circle cx="475.8" cy="392.8" r="0.76" opacity="0.80"/>
<circle cx="501.6" cy="380.2" r="1.22" opacity="0.95"/>
<circle cx="466.5" cy="346.8" r="1.12" opacity="0.65"/>
<circle cx="439.7" cy="393.5" r="1.16" opacity="0.93"/>
<circle cx="509.7" cy="359.7" r="0.74" opacity="0.65"/>
<circle cx="511.5" cy="354.0" r="0.79" opacity="0.61"/>
<circle cx="442.7" cy="349.2" r="0.89" opacity="0.67"/>
<circle cx="462.0" cy="406.2" r="0.79" opacity="0.93"/>
<circle cx="493.8" cy="383.1" r="1.02" opacity="0.91"/>
<circle cx="482.6" cy="361.5" r="0.88" opacity="0.70"/>
<circle cx="468.7" cy="409.9" r="0.93" opacity="0.63"/>
<circle cx="474.4" cy="398.7" r="0.95" opacity="0.88"/>
<circle cx="445.7" cy="350.8" r="1.06" opacity="0.62"/>
<circle cx="461.4" cy="371.4" r="0.81" opacity="0.61"/>
<circle cx="439.5" cy="407.6" r="1.08" opacity="0.98"/>
<circle cx="475.5" cy="407.8" r="1.17" opacity="0.85"/>
<circle cx="478.0" cy="379.3" r="0.82" opacity="0.75"/>
<circle cx="492.6" cy="359.3" r="1.17" opacity="0.80"/>
<circle cx="483.8" cy="399.3" r="1.06" opacity="0.66"/>
<circle cx="457.4" cy="346.9" r="0.72" opacity="0.98"/>
<circle cx="483.0" cy="408.7" r="1.13" opacity="0.73"/>
<circle cx="510.8" cy="405.8" r="0.95" opacity="0.63"/>
<circle cx="462.6" cy="357.4" r="0.90" opacity="0.63"/>
</g>
<text x="510.60" y="402.20" font-size="7.0" font-weight="bold" text-anchor="end" fill="#f2f2f2">50µm</text>
<line x1="505.60" y1="405.10" x2="511.50" y2="405.10" stroke="#fff" stroke-width="1.8"/>
<clipPath id="cp33"><rect x="362.60" y="431.80" width="73.90" height="64.70"/></clipPath>
<rect x="362.60" y="431.80" width="73.90" height="64.70" fill="#04041e"/>
<rect x="362.60" y="431.80" width="73.90" height="64.70" fill="#1428c8" opacity="0.07"/>
<g clip-path="url(#cp33)" fill="#0c10ff" filter="url(#soft)">
<circle cx="404.7" cy="472.7" r="1.05" opacity="0.64"/>
<circle cx="410.8" cy="489.4" r="1.10" opacity="0.59"/>
<circle cx="410.8" cy="471.7" r="0.88" opacity="0.98"/>
<circle cx="401.6" cy="460.6" r="1.12" opacity="0.82"/>
<circle cx="384.9" cy="451.8" r="0.87" opacity="0.53"/>
<circle cx="407.5" cy="479.4" r="0.83" opacity="0.92"/>
<circle cx="431.2" cy="467.7" r="0.97" opacity="0.56"/>
<circle cx="366.7" cy="495.2" r="0.76" opacity="0.61"/>
<circle cx="428.9" cy="480.3" r="0.67" opacity="0.66"/>
<circle cx="380.5" cy="449.4" r="0.60" opacity="0.76"/>
<circle cx="385.1" cy="457.3" r="0.70" opacity="0.56"/>
<circle cx="365.0" cy="488.3" r="1.01" opacity="0.78"/>
<circle cx="371.8" cy="441.4" r="0.67" opacity="0.66"/>
<circle cx="366.9" cy="449.6" r="0.71" opacity="0.60"/>
<circle cx="410.9" cy="461.4" r="0.86" opacity="0.68"/>
<circle cx="402.4" cy="482.6" r="0.77" opacity="0.54"/>
<circle cx="398.2" cy="456.3" r="1.03" opacity="0.56"/>
<circle cx="427.1" cy="432.8" r="0.90" opacity="0.72"/>
<circle cx="385.9" cy="489.3" r="0.99" opacity="0.58"/>
<circle cx="399.2" cy="471.4" r="0.62" opacity="0.54"/>
<circle cx="407.1" cy="479.0" r="0.85" opacity="0.71"/>
<circle cx="400.1" cy="448.7" r="1.08" opacity="0.98"/>
<circle cx="398.2" cy="433.1" r="0.82" opacity="0.90"/>
<circle cx="386.6" cy="438.6" r="0.70" opacity="0.86"/>
<circle cx="408.6" cy="450.3" r="0.94" opacity="0.88"/>
<circle cx="434.0" cy="485.6" r="0.84" opacity="0.90"/>
<circle cx="431.0" cy="488.0" r="1.01" opacity="0.79"/>
<circle cx="400.4" cy="486.8" r="0.94" opacity="0.86"/>
<circle cx="379.4" cy="437.8" r="0.75" opacity="0.79"/>
<circle cx="404.9" cy="444.7" r="0.70" opacity="0.98"/>
<circle cx="367.9" cy="491.7" r="1.02" opacity="0.79"/>
<circle cx="436.2" cy="475.8" r="0.60" opacity="0.97"/>
<circle cx="393.2" cy="491.1" r="1.05" opacity="0.57"/>
<circle cx="365.5" cy="433.1" r="1.03" opacity="0.90"/>
<circle cx="379.5" cy="439.1" r="0.80" opacity="0.90"/>
<circle cx="417.3" cy="487.9" r="1.13" opacity="0.88"/>
<circle cx="424.4" cy="432.9" r="0.60" opacity="0.93"/>
<circle cx="408.3" cy="452.9" r="0.67" opacity="0.67"/>
<circle cx="387.7" cy="463.9" r="0.85" opacity="0.60"/>
<circle cx="368.7" cy="444.9" r="0.67" opacity="0.55"/>
<circle cx="393.2" cy="440.2" r="1.04" opacity="0.77"/>
<circle cx="396.6" cy="473.2" r="0.73" opacity="0.51"/>
<circle cx="368.4" cy="453.6" r="0.80" opacity="0.63"/>
<circle cx="385.2" cy="485.7" r="0.60" opacity="0.72"/>
<circle cx="390.9" cy="450.0" r="1.00" opacity="0.61"/>
<circle cx="365.7" cy="442.1" r="1.14" opacity="0.67"/>
<circle cx="371.3" cy="494.6" r="0.95" opacity="0.98"/>
<circle cx="387.1" cy="484.2" r="0.62" opacity="0.62"/>
<circle cx="421.3" cy="465.2" r="1.03" opacity="0.69"/>
<circle cx="427.4" cy="436.8" r="0.94" opacity="0.59"/>
<circle cx="377.3" cy="488.9" r="0.84" opacity="0.91"/>
<circle cx="383.6" cy="479.0" r="1.10" opacity="0.81"/>
<circle cx="379.9" cy="475.0" r="1.12" opacity="0.90"/>
<circle cx="395.4" cy="457.6" r="0.65" opacity="0.88"/>
<circle cx="374.3" cy="445.9" r="0.62" opacity="0.58"/>
<circle cx="391.0" cy="462.6" r="0.70" opacity="0.71"/>
<circle cx="418.6" cy="438.1" r="0.67" opacity="0.76"/>
<circle cx="429.4" cy="491.2" r="0.91" opacity="0.55"/>
<circle cx="427.2" cy="496.0" r="1.09" opacity="0.77"/>
<circle cx="390.9" cy="469.8" r="1.03" opacity="1.00"/>
<circle cx="399.1" cy="464.6" r="0.77" opacity="0.77"/>
<circle cx="402.8" cy="450.1" r="0.85" opacity="0.96"/>
<circle cx="380.0" cy="448.2" r="0.77" opacity="0.93"/>
<circle cx="385.0" cy="485.3" r="1.11" opacity="0.94"/>
<circle cx="422.0" cy="444.4" r="0.85" opacity="0.91"/>
<circle cx="380.8" cy="470.7" r="1.08" opacity="0.97"/>
<circle cx="388.5" cy="439.5" r="0.62" opacity="0.66"/>
<circle cx="403.0" cy="449.9" r="1.05" opacity="0.83"/>
<circle cx="408.5" cy="485.3" r="0.78" opacity="0.82"/>
<circle cx="388.5" cy="450.5" r="0.66" opacity="0.89"/>
<circle cx="429.1" cy="433.8" r="0.99" opacity="0.53"/>
<circle cx="393.5" cy="452.3" r="1.10" opacity="0.72"/>
<circle cx="400.3" cy="454.8" r="0.74" opacity="0.62"/>
<circle cx="367.2" cy="432.7" r="0.90" opacity="0.87"/>
<circle cx="412.2" cy="448.6" r="1.14" opacity="0.54"/>
<circle cx="394.5" cy="453.4" r="0.70" opacity="0.98"/>
<circle cx="415.5" cy="440.3" r="0.70" opacity="0.90"/>
<circle cx="390.1" cy="451.3" r="0.76" opacity="0.66"/>
<circle cx="406.1" cy="452.0" r="0.93" opacity="0.53"/>
<circle cx="402.2" cy="469.6" r="0.78" opacity="0.93"/>
<circle cx="431.2" cy="474.3" r="0.83" opacity="0.58"/>
<circle cx="408.8" cy="450.5" r="0.69" opacity="0.77"/>
<circle cx="377.4" cy="473.2" r="1.02" opacity="0.51"/>
<circle cx="409.3" cy="444.2" r="0.79" opacity="0.86"/>
<circle cx="433.9" cy="452.1" r="1.01" opacity="0.67"/>
<circle cx="432.1" cy="443.0" r="0.97" opacity="0.54"/>
<circle cx="404.0" cy="479.9" r="1.10" opacity="0.88"/>
<circle cx="403.2" cy="457.7" r="0.95" opacity="0.82"/>
<circle cx="407.8" cy="478.0" r="1.01" opacity="0.97"/>
<circle cx="408.5" cy="488.5" r="1.01" opacity="0.69"/>
<circle cx="421.9" cy="455.4" r="1.06" opacity="0.94"/>
<circle cx="428.9" cy="490.7" r="0.98" opacity="0.75"/>
<circle cx="383.9" cy="473.2" r="1.09" opacity="0.68"/>
<circle cx="378.2" cy="480.8" r="1.10" opacity="0.60"/>
<circle cx="372.9" cy="439.1" r="0.90" opacity="0.92"/>
<circle cx="380.9" cy="483.0" r="0.63" opacity="0.60"/>
<circle cx="403.0" cy="480.8" r="0.87" opacity="0.84"/>
<circle cx="389.2" cy="456.2" r="0.89" opacity="0.50"/>
<circle cx="377.4" cy="454.5" r="0.96" opacity="0.60"/>
<circle cx="380.6" cy="495.9" r="0.96" opacity="0.71"/>
<circle cx="420.5" cy="478.1" r="1.05" opacity="0.78"/>
<circle cx="408.0" cy="438.1" r="0.84" opacity="0.70"/>
<circle cx="381.5" cy="455.4" r="1.09" opacity="0.61"/>
<circle cx="371.0" cy="453.5" r="0.69" opacity="0.51"/>
<circle cx="430.1" cy="467.2" r="0.61" opacity="0.77"/>
<circle cx="375.5" cy="463.1" r="1.12" opacity="0.99"/>
<circle cx="392.0" cy="482.4" r="0.87" opacity="0.54"/>
<circle cx="392.2" cy="484.2" r="1.03" opacity="0.86"/>
<circle cx="435.6" cy="456.4" r="0.99" opacity="0.91"/>
<circle cx="430.9" cy="488.1" r="1.08" opacity="0.67"/>
<circle cx="390.5" cy="471.8" r="0.67" opacity="0.65"/>
<circle cx="390.0" cy="445.1" r="0.70" opacity="0.83"/>
<circle cx="385.5" cy="435.5" r="1.04" opacity="0.97"/>
<circle cx="379.1" cy="476.1" r="0.65" opacity="0.61"/>
<circle cx="374.7" cy="473.3" r="0.91" opacity="0.91"/>
<circle cx="411.3" cy="480.7" r="1.08" opacity="0.79"/>
<circle cx="379.3" cy="442.3" r="1.07" opacity="0.91"/>
<circle cx="410.3" cy="493.4" r="1.04" opacity="0.70"/>
<circle cx="376.3" cy="459.4" r="1.10" opacity="0.94"/>
<circle cx="363.1" cy="432.3" r="0.85" opacity="0.95"/>
</g>
<text x="433.90" y="485.90" font-size="7.0" font-weight="bold" text-anchor="end" fill="#f2f2f2">50µm</text>
<line x1="428.90" y1="488.90" x2="434.80" y2="488.90" stroke="#fff" stroke-width="1.8"/>
<clipPath id="cp34"><rect x="439.00" y="431.80" width="74.20" height="64.70"/></clipPath>
<rect x="439.00" y="431.80" width="74.20" height="64.70" fill="#020212"/>
<g clip-path="url(#cp34)" fill="#0c10ff" filter="url(#soft)">
<circle cx="478.2" cy="469.7" r="0.92" opacity="0.84"/>
<circle cx="504.5" cy="455.4" r="0.97" opacity="0.58"/>
<circle cx="461.7" cy="437.9" r="0.76" opacity="0.44"/>
<circle cx="459.3" cy="471.3" r="0.89" opacity="0.76"/>
<circle cx="445.4" cy="435.8" r="0.63" opacity="0.65"/>
<circle cx="501.2" cy="483.6" r="0.97" opacity="0.67"/>
<circle cx="486.2" cy="450.7" r="0.66" opacity="0.46"/>
<circle cx="478.7" cy="471.1" r="0.79" opacity="0.57"/>
<circle cx="470.5" cy="447.9" r="0.91" opacity="0.67"/>
<circle cx="494.6" cy="484.3" r="0.64" opacity="0.41"/>
<circle cx="460.0" cy="490.5" r="0.90" opacity="0.57"/>
<circle cx="496.6" cy="453.9" r="0.93" opacity="0.40"/>
<circle cx="494.0" cy="495.2" r="0.71" opacity="0.60"/>
<circle cx="448.7" cy="449.6" r="0.62" opacity="0.51"/>
<circle cx="444.1" cy="451.2" r="0.55" opacity="0.64"/>
<circle cx="469.2" cy="446.5" r="0.97" opacity="0.52"/>
<circle cx="478.4" cy="489.7" r="0.88" opacity="0.88"/>
<circle cx="484.2" cy="488.1" r="0.53" opacity="0.75"/>
<circle cx="463.9" cy="452.6" r="0.88" opacity="0.76"/>
<circle cx="464.4" cy="455.3" r="0.64" opacity="0.86"/>
<circle cx="484.6" cy="448.6" r="0.77" opacity="0.38"/>
<circle cx="459.0" cy="464.2" r="0.99" opacity="0.82"/>
<circle cx="479.6" cy="481.2" r="0.63" opacity="0.73"/>
<circle cx="512.9" cy="441.8" r="0.97" opacity="0.89"/>
<circle cx="466.3" cy="484.5" r="0.99" opacity="0.43"/>
<circle cx="473.5" cy="470.2" r="0.90" opacity="0.50"/>
<circle cx="494.8" cy="477.3" r="0.93" opacity="0.75"/>
<circle cx="502.9" cy="470.9" r="0.77" opacity="0.60"/>
<circle cx="469.2" cy="461.7" r="0.75" opacity="0.57"/>
<circle cx="449.8" cy="457.5" r="0.97" opacity="0.52"/>
<circle cx="511.9" cy="485.7" r="0.73" opacity="0.47"/>
<circle cx="504.2" cy="493.6" r="0.66" opacity="0.72"/>
<circle cx="494.9" cy="472.0" r="0.56" opacity="0.48"/>
<circle cx="492.5" cy="472.9" r="0.84" opacity="0.50"/>
<circle cx="504.3" cy="482.0" r="0.74" opacity="0.82"/>
<circle cx="461.4" cy="466.3" r="0.76" opacity="0.88"/>
<circle cx="508.6" cy="453.9" r="0.89" opacity="0.51"/>
<circle cx="504.5" cy="489.5" r="0.84" opacity="0.37"/>
<circle cx="461.6" cy="442.9" r="0.75" opacity="0.37"/>
<circle cx="443.7" cy="438.2" r="0.93" opacity="0.68"/>
<circle cx="503.3" cy="492.8" r="0.78" opacity="0.82"/>
<circle cx="471.3" cy="471.2" r="0.58" opacity="0.60"/>
<circle cx="446.1" cy="461.7" r="0.98" opacity="0.90"/>
<circle cx="494.6" cy="434.7" r="0.99" opacity="0.64"/>
<circle cx="489.1" cy="458.1" r="0.89" opacity="0.52"/>
<circle cx="447.1" cy="461.5" r="0.59" opacity="0.47"/>
<circle cx="453.7" cy="477.2" r="0.84" opacity="0.47"/>
<circle cx="490.0" cy="433.6" r="0.97" opacity="0.48"/>
<circle cx="477.0" cy="455.7" r="0.93" opacity="0.59"/>
<circle cx="451.4" cy="487.5" r="0.79" opacity="0.50"/>
<circle cx="491.9" cy="489.8" r="0.87" opacity="0.79"/>
<circle cx="465.2" cy="447.0" r="0.53" opacity="0.84"/>
<circle cx="456.3" cy="455.6" r="0.90" opacity="0.41"/>
<circle cx="507.9" cy="468.1" r="0.59" opacity="0.80"/>
<circle cx="488.7" cy="435.9" r="0.74" opacity="0.74"/>
<circle cx="459.2" cy="453.5" r="0.93" opacity="0.43"/>
<circle cx="457.7" cy="439.8" r="0.74" opacity="0.59"/>
<circle cx="459.4" cy="437.9" r="0.56" opacity="0.77"/>
<circle cx="482.1" cy="483.7" r="0.56" opacity="0.87"/>
<circle cx="490.1" cy="469.1" r="0.91" opacity="0.39"/>
<circle cx="484.2" cy="451.4" r="0.52" opacity="0.77"/>
<circle cx="441.2" cy="479.3" r="0.64" opacity="0.82"/>
<circle cx="443.4" cy="462.9" r="0.99" opacity="0.64"/>
<circle cx="485.1" cy="465.2" r="0.80" opacity="0.57"/>
<circle cx="458.6" cy="451.0" r="0.92" opacity="0.53"/>
<circle cx="490.8" cy="492.5" r="0.96" opacity="0.82"/>
<circle cx="505.7" cy="473.7" r="0.77" opacity="0.41"/>
<circle cx="444.5" cy="451.2" r="0.74" opacity="0.62"/>
<circle cx="440.0" cy="469.6" r="0.68" opacity="0.57"/>
<circle cx="445.5" cy="482.1" r="0.90" opacity="0.76"/>
<circle cx="447.4" cy="433.1" r="0.98" opacity="0.69"/>
<circle cx="509.2" cy="458.2" r="0.90" opacity="0.41"/>
<circle cx="445.0" cy="476.0" r="0.84" opacity="0.55"/>
<circle cx="478.7" cy="472.4" r="0.62" opacity="0.35"/>
<circle cx="473.5" cy="449.2" r="0.98" opacity="0.45"/>
<circle cx="478.3" cy="446.2" r="0.71" opacity="0.46"/>
<circle cx="455.7" cy="479.9" r="0.87" opacity="0.71"/>
<circle cx="512.9" cy="493.8" r="0.76" opacity="0.83"/>
<circle cx="489.3" cy="482.1" r="0.62" opacity="0.86"/>
<circle cx="490.5" cy="439.7" r="0.50" opacity="0.55"/>
</g>
<text x="510.60" y="485.90" font-size="7.0" font-weight="bold" text-anchor="end" fill="#f2f2f2">50µm</text>
<line x1="505.60" y1="488.90" x2="511.50" y2="488.90" stroke="#fff" stroke-width="1.8"/>
</svg>
</body></html>
